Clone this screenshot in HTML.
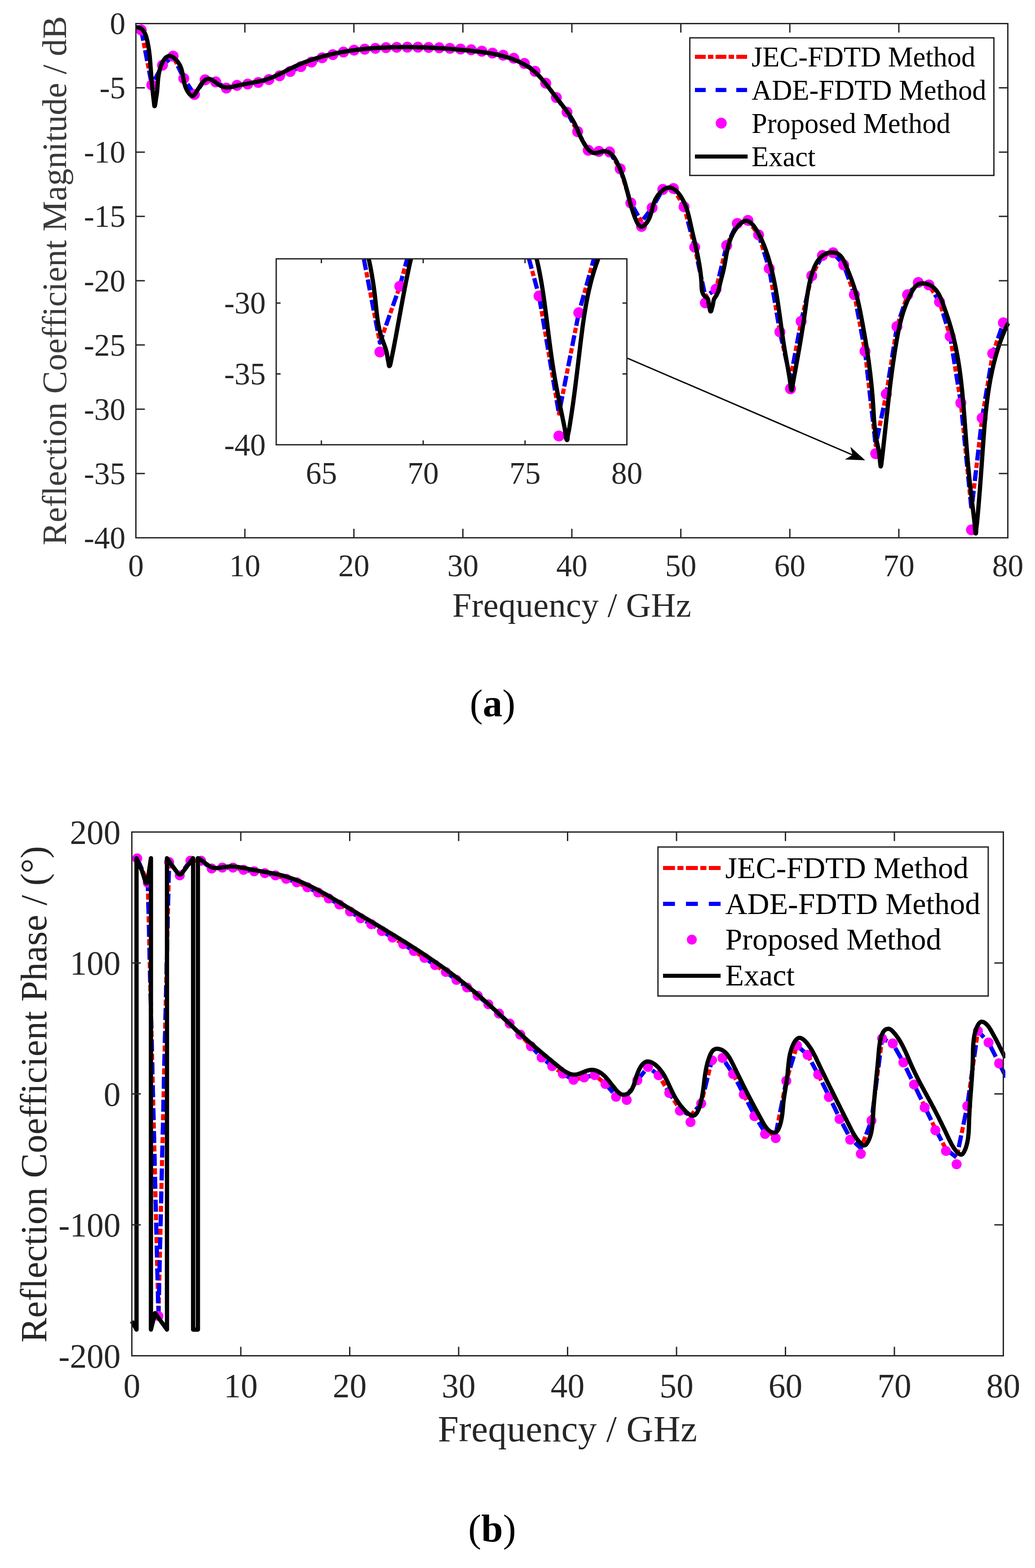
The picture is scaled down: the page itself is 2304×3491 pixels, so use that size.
<!DOCTYPE html>
<html lang="en">
<head>
<meta charset="utf-8">
<title>Reflection coefficient magnitude and phase</title>
<style>
html,body{margin:0;padding:0;background:#fff;}
body{width:2304px;height:3491px;overflow:hidden;}
svg{display:block;font-family:'Liberation Serif', 'Times New Roman', serif;}
</style>
</head>
<body>
<svg xmlns="http://www.w3.org/2000/svg" width="2304" height="3491" viewBox="0 0 2304 3491">
<rect width="2304" height="3491" fill="#fff"/>
<clipPath id="ca"><rect x="298" y="48" width="1950" height="1153.8"/></clipPath>
<g id="plotA">
<g clip-path="url(#ca)" fill="none" stroke-linejoin="round">
<path d="M314.4 66.8L338 189.2L361.7 145.1L385.4 125L409.1 174.7L432.8 210.4L456.5 177.8L480.2 182.3L503.9 196.1L527.6 190L551.3 187.2L575 183.6L598.7 177L622.4 168.8L646.1 159.1L669.8 148.4L693.5 138.2L717.2 128.6L740.9 121.6L764.6 115.9L788.2 111.7" stroke="#f00" stroke-width="9.2" stroke-dasharray="24 5 12 5" stroke-dashoffset="0"/>
<path d="M788.2 111.7L811.9 109.5L835.6 107.6L859.3 106L883 105.4L906.7 105L930.4 105L954.1 105.7L977.8 106.3L1001.5 107.6L1025.2 109.2L1048.9 110.8L1072.6 114L1096.3 118.1L1120 122.9L1143.7 129.6L1167.4 141.3L1191.1 158.8L1214.8 185.2L1238.5 217.1L1262.2 249.6L1285.8 293L1309.5 334.5L1333.2 337L1356.9 338.3L1380.6 375.9L1404.3 451.8L1428 493.6L1451.7 462.7L1475.4 421.8L1499.1 419.6L1522.8 460.4L1546.5 550.3L1570.2 660.2L1593.9 643.8L1617.6 546.5L1641.3 497.4L1665 490.7L1688.7 522.9L1712.4 597.9L1736.1 738.9L1759.7 843L1783.4 715.5L1807.1 613.9L1830.8 568.8L1854.5 562.6L1878.2 589.8L1901.9 656L1925.6 782L1949.3 991.2L1973 877.3L1996.7 726.9L2020.4 656.3L2044.1 628.9L2067.8 634.4L2091.5 672.2L2115.2 748.8L2138.9 897L2162.6 1134.3L2186.3 930.7L2209.9 787.1L2233.6 718.7" stroke="#f00" stroke-width="9.2" stroke-dasharray="24 5 12 5" stroke-dashoffset="21.4"/>
<path d="M314.4 66.8L338 189.2L361.7 145.1L385.4 125L409.1 174.7L432.8 210.4L456.5 177.8L480.2 182.3L503.9 196.1L527.6 190L551.3 187.2L575 183.6L598.7 177L622.4 168.8L646.1 159.1L669.8 148.4L693.5 138.2L717.2 128.6L740.9 121.6L764.6 115.9L788.2 111.7" stroke="#00f" stroke-width="9.2" stroke-dasharray="24 22" stroke-dashoffset="0"/>
<path d="M788.2 111.7L811.9 109.5L835.6 107.6L859.3 106L883 105.4L906.7 105L930.4 105L954.1 105.7L977.8 106.3L1001.5 107.6L1025.2 109.2L1048.9 110.8L1072.6 114L1096.3 118.1L1120 122.9L1143.7 129.6L1167.4 141.3L1191.1 158.8L1214.8 185.2L1238.5 217.1L1262.2 249.6L1285.8 293L1309.5 334.5L1333.2 337L1356.9 338.3L1380.6 375.9L1404.3 451.8L1428 493.6L1451.7 462.7L1475.4 421.8L1499.1 419.6L1522.8 460.4L1546.5 550.3L1570.2 660.2L1593.9 643.8L1617.6 546.5L1641.3 497.4L1665 490.7L1688.7 522.9L1712.4 597.9L1736.1 738.9L1759.7 843L1783.4 715.5L1807.1 613.9L1830.8 568.8L1854.5 562.6L1878.2 589.8L1901.9 656L1925.6 782L1949.3 991.2L1973 877.3L1996.7 726.9L2020.4 656.3L2044.1 628.9L2067.8 634.4L2091.5 672.2L2115.2 748.8L2138.9 897L2162.6 1134.3L2186.3 930.7L2209.9 787.1L2233.6 718.7" stroke="#00f" stroke-width="9.2" stroke-dasharray="24 22" stroke-dashoffset="21.4"/>
</g>
<g fill="#f0f"><circle cx="314.4" cy="66.8" r="12.2"/><circle cx="338" cy="189.2" r="12.2"/><circle cx="361.7" cy="145.1" r="12.2"/><circle cx="385.4" cy="125" r="12.2"/><circle cx="409.1" cy="174.7" r="12.2"/><circle cx="432.8" cy="210.4" r="12.2"/><circle cx="456.5" cy="177.8" r="12.2"/><circle cx="480.2" cy="182.3" r="12.2"/><circle cx="503.9" cy="196.1" r="12.2"/><circle cx="527.6" cy="190" r="12.2"/><circle cx="551.3" cy="187.2" r="12.2"/><circle cx="575" cy="183.6" r="12.2"/><circle cx="598.7" cy="177" r="12.2"/><circle cx="622.4" cy="168.8" r="12.2"/><circle cx="646.1" cy="159.1" r="12.2"/><circle cx="669.8" cy="148.4" r="12.2"/><circle cx="693.5" cy="138.2" r="12.2"/><circle cx="717.2" cy="128.6" r="12.2"/><circle cx="740.9" cy="121.6" r="12.2"/><circle cx="764.6" cy="115.9" r="12.2"/><circle cx="788.2" cy="111.7" r="12.2"/><circle cx="811.9" cy="109.5" r="12.2"/><circle cx="835.6" cy="107.6" r="12.2"/><circle cx="859.3" cy="106" r="12.2"/><circle cx="883" cy="105.4" r="12.2"/><circle cx="906.7" cy="105" r="12.2"/><circle cx="930.4" cy="105" r="12.2"/><circle cx="954.1" cy="105.7" r="12.2"/><circle cx="977.8" cy="106.3" r="12.2"/><circle cx="1001.5" cy="107.6" r="12.2"/><circle cx="1025.2" cy="109.2" r="12.2"/><circle cx="1048.9" cy="110.8" r="12.2"/><circle cx="1072.6" cy="114" r="12.2"/><circle cx="1096.3" cy="118.1" r="12.2"/><circle cx="1120" cy="122.9" r="12.2"/><circle cx="1143.7" cy="129.6" r="12.2"/><circle cx="1167.4" cy="141.3" r="12.2"/><circle cx="1191.1" cy="158.8" r="12.2"/><circle cx="1214.8" cy="185.2" r="12.2"/><circle cx="1238.5" cy="217.1" r="12.2"/><circle cx="1262.2" cy="249.6" r="12.2"/><circle cx="1285.8" cy="293" r="12.2"/><circle cx="1309.5" cy="334.5" r="12.2"/><circle cx="1333.2" cy="337" r="12.2"/><circle cx="1356.9" cy="338.3" r="12.2"/><circle cx="1380.6" cy="375.9" r="12.2"/><circle cx="1404.3" cy="451.8" r="12.2"/><circle cx="1428" cy="504.1" r="12.2"/><circle cx="1451.7" cy="462.7" r="12.2"/><circle cx="1475.4" cy="421.8" r="12.2"/><circle cx="1499.1" cy="419.6" r="12.2"/><circle cx="1522.8" cy="460.4" r="12.2"/><circle cx="1546.5" cy="550.3" r="12.2"/><circle cx="1570.2" cy="674.3" r="12.2"/><circle cx="1593.9" cy="643.8" r="12.2"/><circle cx="1617.6" cy="546.5" r="12.2"/><circle cx="1641.3" cy="497.4" r="12.2"/><circle cx="1665" cy="490.7" r="12.2"/><circle cx="1688.7" cy="522.9" r="12.2"/><circle cx="1712.4" cy="597.9" r="12.2"/><circle cx="1736.1" cy="738.9" r="12.2"/><circle cx="1759.7" cy="865.5" r="12.2"/><circle cx="1783.4" cy="715.5" r="12.2"/><circle cx="1807.1" cy="613.9" r="12.2"/><circle cx="1830.8" cy="568.8" r="12.2"/><circle cx="1854.5" cy="562.6" r="12.2"/><circle cx="1878.2" cy="589.8" r="12.2"/><circle cx="1901.9" cy="656" r="12.2"/><circle cx="1925.6" cy="782" r="12.2"/><circle cx="1949.3" cy="1010" r="12.2"/><circle cx="1973" cy="877.3" r="12.2"/><circle cx="1996.7" cy="726.9" r="12.2"/><circle cx="2020.4" cy="656.3" r="12.2"/><circle cx="2044.1" cy="628.9" r="12.2"/><circle cx="2067.8" cy="634.4" r="12.2"/><circle cx="2091.5" cy="672.2" r="12.2"/><circle cx="2115.2" cy="748.8" r="12.2"/><circle cx="2138.9" cy="897" r="12.2"/><circle cx="2162.6" cy="1179.6" r="12.2"/><circle cx="2186.3" cy="930.7" r="12.2"/><circle cx="2209.9" cy="787.1" r="12.2"/><circle cx="2233.6" cy="718.7" r="12.2"/></g>
<path d="M301.8 60.5C303.6 60.5 305.3 60.6 306.8 60.9C308.5 61.2 310.1 61.7 311.6 62.3C313.1 63 314.5 63.9 315.8 65C317.1 66 318.2 67.2 319.3 68.6C320.3 69.9 321.1 71.3 321.9 72.8C322.7 74.2 323.4 75.8 324 77.3C324.6 78.9 325.1 80.5 325.6 82.1C326.1 83.7 326.5 85.3 326.9 86.9C327.3 88.5 327.7 90.1 328.1 91.8C328.4 93.4 328.8 95 329.1 96.7C329.4 98.3 329.7 99.9 330 101.6C330.3 103.2 330.6 104.9 330.8 106.5C331.1 108.2 331.4 109.8 331.6 111.5C331.8 113.1 332 114.8 332.2 116.4C332.4 118.1 332.6 119.7 332.8 121.4C333 123 333.2 124.7 333.4 126.3C333.5 128 333.7 129.7 333.8 131.3C334 133 334.1 134.6 334.3 136.3C334.4 138 334.5 139.6 334.7 141.3C334.8 143 334.9 144.6 335 146.3C335.2 147.9 335.3 149.6 335.4 151.3C335.5 152.9 335.7 154.6 335.8 156.3C335.9 157.9 336 159.6 336.2 161.2C336.3 162.9 336.4 164.6 336.6 166.2C336.7 167.9 336.8 169.5 337 171.2C337.1 172.9 337.2 174.5 337.4 176.2C337.5 177.9 337.7 179.5 337.8 181.2C338 182.8 338.1 184.5 338.3 186.2C338.4 187.8 338.6 189.5 338.7 191.1C338.9 192.8 339 194.5 339.2 196.1C339.4 197.8 339.5 199.4 339.7 201.1C339.9 202.8 340 204.4 340.2 206.1C340.4 207.7 340.6 209.4 340.7 211C340.9 212.7 341.1 214.4 341.3 216C341.5 217.7 341.7 219.3 341.9 221C342.1 222.6 342.3 224.3 342.5 225.9C342.7 227.6 342.8 229.2 343 230.9C343.2 232.6 343.3 234.6 343.7 235.9C344.2 237.5 345 235.6 345.3 233.2C345.6 231.2 345.9 229.7 346.1 228.3C346.4 226.7 346.6 225.1 346.8 223.3C347 221.7 347.3 220 347.5 218.4C347.8 216.7 348.1 215.1 348.3 213.4C348.6 211.8 348.8 210.1 349.1 208.5C349.3 206.8 349.5 205.2 349.7 203.5C349.8 201.9 350 200.2 350.1 198.5C350.3 196.9 350.4 195.2 350.6 193.6C350.7 191.9 350.8 190.2 350.9 188.6C351 186.9 351.2 185.3 351.3 183.6C351.4 181.9 351.6 180.3 351.7 178.6C351.9 177 352 175.3 352.2 173.6C352.4 172 352.6 170.3 352.9 168.7C353.1 167 353.4 165.4 353.7 163.7C354 162.1 354.3 160.5 354.7 158.8C355.1 157.2 355.5 155.6 355.9 154C356.4 152.4 356.9 150.8 357.4 149.2C357.9 147.7 358.5 146.1 359.1 144.5C359.8 143 360.4 141.4 361.1 139.9C361.9 138.4 362.6 136.9 363.4 135.5C364.3 134 365.2 132.6 366.2 131.3C367.3 129.9 368.4 128.7 369.6 127.7C370.9 126.5 372.4 125.6 373.8 125.1C375.4 124.5 377.1 124.4 378.8 124.7C380.3 124.9 381.9 125.5 383.5 126.3C384.9 127.1 386.3 128 387.6 129.1C388.9 130.1 390.1 131.2 391.3 132.5C392.5 133.7 393.6 134.9 394.6 136.2C395.7 137.5 396.7 138.9 397.6 140.3C398.5 141.7 399.3 143.2 400.1 144.6C400.9 146.1 401.6 147.6 402.2 149.1C402.8 150.7 403.4 152.3 403.9 153.8C404.4 155.4 404.8 157 405.2 158.7C405.6 160.3 406 161.9 406.3 163.5C406.6 165.2 406.9 166.8 407.2 168.5C407.5 170.1 407.7 171.8 408 173.4C408.3 175 408.6 176.7 408.9 178.3C409.2 180 409.5 181.6 409.9 183.2C410.2 184.8 410.6 186.5 411.1 188.1C411.5 189.7 412 191.3 412.6 192.8C413.1 194.4 413.8 195.9 414.5 197.5C415.1 199 415.9 200.4 416.7 201.9C417.5 203.4 418.4 204.8 419.4 206.2C420.4 207.6 421.4 208.9 422.5 210.1C423.8 211.5 425.2 212.5 426.5 213.1C428.1 213.9 429.7 213.7 431.2 212.6C432.3 211.7 433.4 210.4 434.4 208.9C435.3 207.6 436.2 206.1 437.1 204.6C438 203.3 438.9 201.8 439.7 200.4C440.6 199 441.4 197.5 442.3 196.1C443.2 194.7 444.1 193.2 445 191.8C445.9 190.4 446.8 189 447.8 187.7C448.8 186.3 449.8 185 450.8 183.7C451.9 182.4 453.1 181.2 454.2 180.1C455.5 178.9 456.9 177.8 458.2 177.1C459.8 176.2 461.3 175.6 462.9 175.5C464.5 175.3 466.2 175.6 467.8 176.1C469.3 176.6 470.9 177.3 472.4 178.2C473.8 179 475.2 179.9 476.6 180.9C477.9 181.8 479.3 182.8 480.6 183.8C482 184.8 483.3 185.8 484.7 186.8C486.1 187.8 487.4 188.7 488.8 189.6C490.3 190.5 491.7 191.3 493.2 192C494.8 192.7 496.3 193.3 497.9 193.7C499.5 194.1 501.2 194.4 502.8 194.5C504.5 194.6 506.1 194.6 507.8 194.5C509.5 194.4 511.1 194.3 512.8 194C514.4 193.7 516.1 193.4 517.7 193.1C519.3 192.7 520.9 192.3 522.6 192C524.2 191.6 525.8 191.2 527.5 190.8C529.1 190.5 530.7 190.1 532.3 189.7C534 189.4 535.6 189.1 537.2 188.7C538.9 188.4 540.5 188.1 542.1 187.7C543.8 187.4 545.4 187.1 547 186.8C548.7 186.5 550.3 186.2 552 185.9C553.6 185.5 555.2 185.2 556.9 184.9C558.5 184.6 560.2 184.3 561.8 184C563.4 183.7 565.1 183.4 566.7 183.1C568.4 182.8 570 182.4 571.6 182.1C573.3 181.8 574.9 181.4 576.5 181.1C578.1 180.7 579.8 180.4 581.4 180C583 179.6 584.6 179.2 586.2 178.8C587.8 178.3 589.5 177.9 591.1 177.4C592.7 177 594.2 176.5 595.8 175.9C597.4 175.4 599 174.9 600.5 174.3C602.1 173.7 603.7 173.1 605.2 172.5C606.8 171.9 608.3 171.2 609.8 170.6C611.4 169.9 612.9 169.2 614.4 168.5C615.9 167.8 617.4 167.1 618.9 166.4C620.4 165.7 621.9 165 623.4 164.2C624.9 163.5 626.4 162.8 627.9 162C629.4 161.3 630.9 160.5 632.4 159.8C633.9 159 635.4 158.3 636.8 157.5C638.3 156.7 639.8 156 641.3 155.2C642.8 154.5 644.3 153.7 645.8 153C647.3 152.3 648.8 151.5 650.3 150.8C651.8 150.1 653.3 149.3 654.8 148.6C656.3 147.9 657.8 147.2 659.3 146.6C660.8 145.9 662.4 145.2 663.9 144.5C665.4 143.9 667 143.2 668.5 142.6C670 141.9 671.6 141.3 673.1 140.7C674.7 140 676.2 139.4 677.8 138.8C679.3 138.2 680.9 137.6 682.4 137C684 136.5 685.6 135.9 687.1 135.3C688.7 134.8 690.3 134.2 691.9 133.7C693.4 133.1 695 132.6 696.6 132.1C698.2 131.6 699.8 131 701.4 130.5C702.9 130 704.5 129.5 706.1 129.1C707.7 128.6 709.3 128.1 710.9 127.6C712.5 127.2 714.1 126.7 715.7 126.3C717.3 125.8 718.9 125.4 720.6 124.9C722.2 124.5 723.8 124.1 725.4 123.7C727 123.3 728.6 122.8 730.2 122.5C731.9 122.1 733.5 121.7 735.1 121.3C736.7 120.9 738.4 120.5 740 120.2C741.6 119.8 743.2 119.5 744.9 119.1C746.5 118.8 748.1 118.4 749.8 118.1C751.4 117.8 753 117.4 754.7 117.1C756.3 116.8 758 116.5 759.6 116.2C761.2 115.9 762.9 115.6 764.5 115.3C766.2 115 767.8 114.8 769.4 114.5C771.1 114.2 772.7 114 774.4 113.7C776 113.4 777.7 113.2 779.3 112.9C781 112.7 782.6 112.5 784.3 112.2C785.9 112 787.6 111.8 789.2 111.6C790.9 111.3 792.5 111.1 794.2 110.9C795.8 110.7 797.5 110.5 799.2 110.3C800.8 110.1 802.5 109.9 804.1 109.8C805.8 109.6 807.4 109.4 809.1 109.2C810.8 109.1 812.4 108.9 814.1 108.7C815.7 108.6 817.4 108.4 819.1 108.3C820.7 108.1 822.4 108 824 107.8C825.7 107.7 827.4 107.6 829 107.4C830.7 107.3 832.4 107.2 834 107.1C835.7 107 837.3 106.8 839 106.7C840.7 106.6 842.3 106.5 844 106.4C845.7 106.3 847.3 106.2 849 106.1C850.7 106 852.3 106 854 105.9C855.6 105.8 857.3 105.7 859 105.7C860.6 105.6 862.3 105.5 864 105.5C865.6 105.4 867.3 105.3 869 105.3C870.6 105.2 872.3 105.2 874 105.1C875.6 105.1 877.3 105 879 105C880.6 105 882.3 104.9 884 104.9C885.6 104.9 887.3 104.9 889 104.8C890.6 104.8 892.3 104.8 894 104.8C895.6 104.8 897.3 104.8 899 104.8C900.6 104.8 902.3 104.8 904 104.8C905.6 104.8 907.3 104.8 909 104.8C910.6 104.8 912.3 104.8 914 104.8C915.6 104.8 917.3 104.9 919 104.9C920.6 104.9 922.3 104.9 924 105C925.6 105 927.3 105 929 105.1C930.6 105.1 932.3 105.2 934 105.2C935.6 105.3 937.3 105.3 939 105.4C940.6 105.4 942.3 105.5 944 105.5C945.6 105.6 947.3 105.7 949 105.7C950.6 105.8 952.3 105.9 954 105.9C955.6 106 957.3 106.1 959 106.2C960.6 106.3 962.3 106.3 964 106.4C965.6 106.5 967.3 106.6 969 106.7C970.6 106.8 972.3 106.9 974 107C975.6 107.1 977.3 107.2 978.9 107.3C980.6 107.4 982.3 107.5 983.9 107.6C985.6 107.7 987.3 107.8 988.9 107.9C990.6 108.1 992.2 108.2 993.9 108.3C995.6 108.4 997.2 108.5 998.9 108.7C1000.6 108.8 1002.2 108.9 1003.9 109C1005.5 109.2 1007.2 109.3 1008.9 109.4C1010.5 109.6 1012.2 109.7 1013.9 109.9C1015.5 110 1017.2 110.1 1018.8 110.3C1020.5 110.4 1022.2 110.6 1023.8 110.7C1025.5 110.9 1027.1 111 1028.8 111.2C1030.5 111.3 1032.1 111.5 1033.8 111.6C1035.4 111.8 1037.1 111.9 1038.8 112.1C1040.4 112.3 1042.1 112.4 1043.7 112.6C1045.4 112.8 1047.1 112.9 1048.7 113.1C1050.4 113.3 1052 113.4 1053.7 113.6C1055.3 113.8 1057 114 1058.7 114.2C1060.3 114.4 1062 114.5 1063.6 114.7C1065.3 114.9 1066.9 115.1 1068.6 115.4C1070.2 115.6 1071.9 115.8 1073.6 116C1075.2 116.2 1076.9 116.5 1078.5 116.7C1080.2 116.9 1081.8 117.2 1083.5 117.4C1085.1 117.7 1086.7 117.9 1088.4 118.2C1090 118.5 1091.7 118.8 1093.3 119.1C1095 119.4 1096.6 119.7 1098.2 120C1099.9 120.3 1101.5 120.6 1103.1 121C1104.8 121.3 1106.4 121.7 1108 122C1109.7 122.4 1111.3 122.8 1112.9 123.1C1114.5 123.5 1116.1 123.9 1117.8 124.4C1119.4 124.8 1121 125.2 1122.6 125.7C1124.2 126.1 1125.8 126.6 1127.4 127.1C1129 127.5 1130.6 128 1132.2 128.5C1133.7 129 1135.3 129.6 1136.9 130.1C1138.5 130.7 1140 131.2 1141.6 131.8C1143.2 132.4 1144.7 133 1146.3 133.6C1147.8 134.2 1149.4 134.9 1150.9 135.5C1152.4 136.2 1154 136.9 1155.5 137.6C1157 138.3 1158.5 139 1160 139.7C1161.5 140.5 1162.9 141.2 1164.4 142C1165.9 142.8 1167.3 143.6 1168.8 144.5C1170.2 145.3 1171.6 146.2 1173.1 147.1C1174.5 147.9 1175.9 148.9 1177.2 149.8C1178.6 150.7 1180 151.7 1181.3 152.7C1182.7 153.7 1184 154.7 1185.3 155.7C1186.6 156.7 1187.9 157.8 1189.2 158.9C1190.4 160 1191.7 161.1 1192.9 162.2C1194.1 163.4 1195.3 164.5 1196.5 165.7C1197.7 166.9 1198.8 168.1 1200 169.3C1201.1 170.5 1202.3 171.7 1203.4 172.9C1204.5 174.2 1205.6 175.4 1206.7 176.7C1207.8 177.9 1208.9 179.2 1210 180.5C1211 181.8 1212.1 183 1213.1 184.3C1214.2 185.6 1215.2 186.9 1216.3 188.3C1217.3 189.6 1218.3 190.9 1219.3 192.2C1220.4 193.5 1221.4 194.8 1222.4 196.2C1223.4 197.5 1224.4 198.8 1225.4 200.2C1226.4 201.5 1227.4 202.8 1228.4 204.1C1229.4 205.5 1230.4 206.8 1231.4 208.1C1232.4 209.5 1233.4 210.8 1234.4 212.1C1235.4 213.5 1236.5 214.8 1237.5 216.1C1238.5 217.4 1239.5 218.7 1240.5 220C1241.6 221.4 1242.6 222.7 1243.6 224C1244.7 225.3 1245.7 226.6 1246.7 227.9C1247.8 229.2 1248.8 230.5 1249.8 231.8C1250.9 233.1 1251.9 234.5 1252.9 235.8C1253.9 237.1 1254.9 238.4 1256 239.7C1257 241.1 1258 242.4 1259 243.7C1260 245.1 1261 246.4 1261.9 247.8C1262.9 249.1 1263.9 250.5 1264.8 251.8C1265.8 253.2 1266.7 254.6 1267.7 256C1268.6 257.3 1269.5 258.7 1270.4 260.1C1271.3 261.5 1272.2 263 1273 264.4C1273.9 265.8 1274.7 267.2 1275.6 268.7C1276.4 270.1 1277.2 271.6 1278 273.1C1278.7 274.6 1279.5 276 1280.2 277.5C1281 279 1281.7 280.5 1282.4 282.1C1283.1 283.6 1283.8 285.1 1284.5 286.6C1285.1 288.1 1285.8 289.7 1286.5 291.2C1287.2 292.7 1287.8 294.2 1288.5 295.8C1289.2 297.3 1289.9 298.8 1290.5 300.3C1291.2 301.9 1291.9 303.4 1292.6 304.9C1293.3 306.4 1294 307.9 1294.8 309.4C1295.5 310.9 1296.2 312.4 1297 313.9C1297.8 315.3 1298.6 316.8 1299.4 318.2C1300.3 319.7 1301.1 321.1 1302 322.5C1302.9 323.9 1303.8 325.3 1304.8 326.7C1305.8 328 1306.8 329.4 1307.8 330.6C1308.9 331.9 1310 333.2 1311.2 334.4C1312.4 335.6 1313.6 336.7 1315 337.6C1316.3 338.6 1317.8 339.4 1319.4 340C1320.9 340.6 1322.5 340.9 1324.2 341C1325.8 341 1327.5 340.8 1329.2 340.4C1330.8 340.1 1332.4 339.6 1334 339.1C1335.6 338.6 1337.2 338.1 1338.8 337.7C1340.5 337.2 1342.2 336.9 1343.7 336.8C1345.5 336.6 1347.1 336.7 1348.7 336.9C1350.4 337.2 1352 337.7 1353.5 338.3C1355 339 1356.5 339.8 1357.9 340.8C1359.2 341.7 1360.4 342.8 1361.6 344C1362.8 345.2 1363.9 346.4 1365 347.8C1366 349.1 1366.9 350.4 1367.9 351.8C1368.8 353.2 1369.7 354.6 1370.5 356.1C1371.3 357.5 1372.1 359 1372.9 360.5C1373.7 362 1374.4 363.5 1375.2 364.9C1375.9 366.4 1376.6 368 1377.3 369.5C1378 371 1378.7 372.5 1379.4 374C1380 375.6 1380.7 377.1 1381.3 378.6C1382 380.2 1382.6 381.7 1383.2 383.3C1383.8 384.8 1384.4 386.4 1384.9 388C1385.5 389.5 1386.1 391.1 1386.6 392.7C1387.1 394.3 1387.7 395.8 1388.2 397.4C1388.7 399 1389.2 400.6 1389.7 402.2C1390.2 403.8 1390.7 405.4 1391.1 407C1391.6 408.6 1392.1 410.2 1392.5 411.8C1393 413.4 1393.4 415 1393.9 416.6C1394.3 418.2 1394.7 419.8 1395.1 421.4C1395.6 423 1396 424.7 1396.4 426.3C1396.8 427.9 1397.2 429.5 1397.6 431.1C1398 432.7 1398.4 434.4 1398.8 436C1399.2 437.6 1399.6 439.2 1400.1 440.8C1400.5 442.4 1400.9 444 1401.3 445.7C1401.7 447.3 1402.1 448.9 1402.6 450.5C1403 452.1 1403.4 453.7 1403.9 455.3C1404.3 456.9 1404.8 458.5 1405.2 460.1C1405.7 461.7 1406.2 463.3 1406.7 464.9C1407.2 466.5 1407.7 468.1 1408.2 469.7C1408.7 471.3 1409.2 472.9 1409.8 474.4C1410.3 476 1410.9 477.6 1411.4 479.2C1412 480.7 1412.6 482.3 1413.2 483.8C1413.8 485.4 1414.4 486.9 1415.1 488.5C1415.7 490 1416.4 491.6 1417.1 493C1417.8 494.6 1418.6 496.1 1419.4 497.5C1420.3 499.1 1421.2 500.4 1422.2 501.6C1423.5 503 1424.8 504 1426.2 504.5C1427.7 505 1429.4 504.8 1431.1 504C1432.4 503.4 1433.8 502.3 1435.1 501.1C1436.3 500 1437.4 498.8 1438.5 497.4C1439.6 496.1 1440.5 494.8 1441.4 493.4C1442.3 491.9 1443.1 490.5 1443.9 489C1444.6 487.5 1445.3 486 1446 484.5C1446.6 482.9 1447.2 481.4 1447.8 479.8C1448.3 478.2 1448.8 476.6 1449.3 475C1449.8 473.4 1450.2 471.8 1450.6 470.2C1451.1 468.6 1451.5 467 1451.9 465.4C1452.3 463.7 1452.7 462.1 1453.1 460.5C1453.6 458.9 1454 457.3 1454.5 455.7C1454.9 454.1 1455.4 452.5 1456 451C1456.6 449.4 1457.2 447.9 1457.8 446.3C1458.5 444.8 1459.2 443.3 1460.1 441.8C1460.9 440.4 1461.7 439 1462.7 437.6C1463.6 436.2 1464.6 434.8 1465.6 433.5C1466.6 432.2 1467.7 430.9 1468.8 429.7C1470 428.4 1471.1 427.2 1472.3 426.1C1473.6 425 1474.9 423.9 1476.2 423C1477.6 421.9 1479 421 1480.4 420.3C1482 419.5 1483.5 418.8 1485 418.4C1486.7 417.9 1488.3 417.6 1490 417.6C1491.6 417.7 1493.3 417.9 1494.9 418.4C1496.4 418.9 1498 419.6 1499.4 420.5C1500.8 421.3 1502.2 422.3 1503.5 423.3C1504.8 424.4 1506 425.5 1507.2 426.7C1508.3 427.9 1509.4 429.2 1510.5 430.5C1511.6 431.8 1512.6 433.1 1513.5 434.5C1514.5 435.8 1515.4 437.2 1516.3 438.6C1517.2 440.1 1518 441.5 1518.9 442.9C1519.7 444.4 1520.5 445.9 1521.2 447.3C1522 448.8 1522.7 450.3 1523.4 451.8C1524.1 453.4 1524.8 454.9 1525.4 456.4C1526 458 1526.6 459.5 1527.2 461.1C1527.8 462.7 1528.4 464.2 1528.9 465.8C1529.4 467.4 1529.9 469 1530.4 470.6C1530.9 472.2 1531.3 473.8 1531.8 475.4C1532.2 477 1532.6 478.6 1533 480.2C1533.4 481.8 1533.8 483.5 1534.2 485.1C1534.6 486.7 1535 488.3 1535.3 489.9C1535.7 491.6 1536.1 493.2 1536.4 494.8C1536.8 496.5 1537.1 498.1 1537.5 499.7C1537.8 501.3 1538.2 503 1538.6 504.6C1538.9 506.2 1539.3 507.9 1539.6 509.5C1540 511.1 1540.4 512.7 1540.7 514.4C1541.1 516 1541.5 517.6 1541.9 519.2C1542.2 520.9 1542.6 522.5 1543 524.1C1543.4 525.7 1543.8 527.4 1544.1 529C1544.5 530.6 1544.9 532.2 1545.3 533.9C1545.7 535.5 1546 537.1 1546.4 538.7C1546.8 540.3 1547.2 542 1547.5 543.6C1547.9 545.2 1548.3 546.8 1548.6 548.5C1549 550.1 1549.4 551.7 1549.7 553.4C1550.1 555 1550.5 556.6 1550.8 558.2C1551.2 559.9 1551.5 561.5 1551.9 563.1C1552.2 564.8 1552.6 566.4 1552.9 568C1553.2 569.7 1553.6 571.3 1553.9 572.9C1554.2 574.6 1554.5 576.2 1554.8 577.8C1555.1 579.5 1555.4 581.1 1555.7 582.8C1556 584.4 1556.3 586 1556.6 587.7C1556.9 589.3 1557.1 591 1557.4 592.6C1557.7 594.3 1557.9 595.9 1558.2 597.6C1558.4 599.2 1558.6 600.9 1558.8 602.5C1559.1 604.2 1559.3 605.8 1559.5 607.5C1559.7 609.1 1559.9 610.8 1560.1 612.4C1560.2 614.1 1560.4 615.8 1560.6 617.4C1560.7 619.1 1560.9 620.7 1561 622.4C1561.1 624.1 1561.2 625.7 1561.3 627.4C1561.4 629 1561.5 630.7 1561.6 632.4C1561.7 634 1561.7 635.7 1561.8 637.4C1561.9 639.1 1562 640.7 1562.1 642.4C1562.3 644.1 1562.5 645.7 1562.8 647.3C1563.1 649 1563.5 650.6 1564.1 652.2C1564.6 653.7 1565.4 655.2 1566.3 656.6C1567.2 658 1568.3 659.2 1569.7 660.3C1570.9 661.3 1572.5 662.2 1573.8 663.2C1575.1 664.3 1576.1 665.6 1576.5 667.3C1576.8 668.8 1576.8 670.5 1577 672.2C1577.2 673.9 1577.5 675.6 1577.8 677.2C1578.1 678.8 1578.5 680.4 1578.9 682.1C1579.2 683.7 1579.5 685.3 1579.8 687C1580 688.5 1580.4 690.1 1580.9 691.8C1581.5 693.8 1582.8 693.8 1583.4 691.9C1584 690.2 1584.2 688.5 1584.6 687C1585 685.4 1585.5 683.8 1585.9 682.1C1586.4 680.6 1586.8 679 1587.1 677.3C1587.4 675.7 1587.6 674 1587.9 672.3C1588.2 670.6 1588.5 669 1589 667.5C1589.5 665.8 1590.2 664.3 1591.2 663C1592.1 661.6 1593.2 660.3 1594.1 658.9C1595 657.5 1595.8 656.1 1596.5 654.6C1597.2 653.1 1597.8 651.5 1598.3 649.9C1598.9 648.4 1599.4 646.8 1599.8 645.1C1600.2 643.5 1600.6 641.9 1601 640.3C1601.4 638.7 1601.7 637 1602.1 635.4C1602.4 633.8 1602.8 632.1 1603.2 630.5C1603.6 628.9 1603.9 627.3 1604.4 625.7C1604.8 624 1605.2 622.4 1605.6 620.8C1606 619.2 1606.4 617.6 1606.9 616C1607.3 614.4 1607.7 612.8 1608.1 611.1C1608.6 609.5 1609 607.9 1609.4 606.3C1609.8 604.7 1610.2 603 1610.5 601.4C1610.9 599.8 1611.3 598.2 1611.6 596.5C1611.9 594.9 1612.3 593.3 1612.6 591.6C1612.9 590 1613.2 588.4 1613.5 586.7C1613.8 585.1 1614.1 583.4 1614.4 581.8C1614.7 580.2 1615 578.5 1615.3 576.9C1615.5 575.2 1615.8 573.6 1616.1 571.9C1616.4 570.3 1616.7 568.7 1617 567C1617.3 565.4 1617.6 563.7 1618 562.1C1618.3 560.5 1618.6 558.8 1619 557.2C1619.3 555.6 1619.7 554 1620.1 552.3C1620.5 550.7 1620.9 549.1 1621.3 547.5C1621.7 545.9 1622.2 544.3 1622.6 542.7C1623.1 541.1 1623.6 539.5 1624.1 537.9C1624.6 536.3 1625.2 534.7 1625.8 533.2C1626.4 531.6 1627 530.1 1627.6 528.5C1628.3 527 1629 525.5 1629.7 524C1630.4 522.5 1631.2 521 1631.9 519.5C1632.7 518.1 1633.6 516.6 1634.4 515.2C1635.3 513.8 1636.2 512.4 1637.1 511C1638.1 509.6 1639 508.3 1640.1 506.9C1641.1 505.6 1642.1 504.3 1643.2 503C1644.3 501.8 1645.5 500.5 1646.6 499.4C1647.9 498.2 1649.1 497 1650.4 496.1C1651.8 495 1653.2 494.1 1654.6 493.3C1656.1 492.5 1657.7 492 1659.3 491.7C1661 491.5 1662.6 491.6 1664.2 492.1C1665.8 492.5 1667.3 493.2 1668.7 494.2C1670.1 495.1 1671.4 496.1 1672.7 497.3C1673.8 498.4 1675 499.6 1676.1 500.9C1677.2 502.2 1678.2 503.5 1679.2 504.9C1680.2 506.2 1681.1 507.6 1682 509C1682.9 510.4 1683.8 511.8 1684.7 513.2C1685.6 514.6 1686.4 516.1 1687.2 517.5C1688 519 1688.8 520.5 1689.6 521.9C1690.4 523.4 1691.2 524.9 1691.9 526.4C1692.7 527.9 1693.4 529.4 1694.1 530.8C1694.9 532.4 1695.6 533.9 1696.2 535.4C1696.9 536.9 1697.6 538.4 1698.2 540C1698.9 541.5 1699.5 543 1700.1 544.6C1700.8 546.1 1701.4 547.7 1702 549.2C1702.6 550.8 1703.1 552.4 1703.7 553.9C1704.3 555.5 1704.8 557.1 1705.4 558.6C1705.9 560.2 1706.5 561.8 1707 563.4C1707.6 564.9 1708.1 566.5 1708.6 568.1C1709.1 569.7 1709.6 571.3 1710.1 572.9C1710.6 574.5 1711.1 576.1 1711.5 577.7C1712 579.3 1712.5 580.9 1712.9 582.5C1713.4 584.1 1713.8 585.7 1714.3 587.3C1714.7 588.9 1715.1 590.5 1715.6 592.1C1716 593.7 1716.4 595.4 1716.8 597C1717.2 598.6 1717.6 600.2 1718 601.8C1718.4 603.4 1718.8 605.1 1719.2 606.7C1719.5 608.3 1719.9 609.9 1720.3 611.6C1720.6 613.2 1721 614.8 1721.3 616.5C1721.7 618.1 1722 619.7 1722.4 621.3C1722.7 623 1723.1 624.6 1723.4 626.2C1723.7 627.9 1724 629.5 1724.3 631.2C1724.7 632.8 1725 634.4 1725.3 636.1C1725.6 637.7 1725.9 639.3 1726.2 641C1726.5 642.6 1726.8 644.3 1727.1 645.9C1727.4 647.5 1727.6 649.2 1727.9 650.8C1728.2 652.5 1728.5 654.1 1728.7 655.8C1729 657.4 1729.3 659.1 1729.6 660.7C1729.8 662.3 1730.1 664 1730.3 665.6C1730.6 667.3 1730.9 668.9 1731.1 670.6C1731.4 672.2 1731.6 673.9 1731.9 675.5C1732.1 677.2 1732.3 678.8 1732.6 680.5C1732.8 682.1 1733.1 683.8 1733.3 685.4C1733.5 687.1 1733.8 688.7 1734 690.4C1734.3 692 1734.5 693.7 1734.7 695.3C1735 697 1735.2 698.6 1735.4 700.3C1735.6 701.9 1735.9 703.6 1736.1 705.2C1736.3 706.9 1736.6 708.5 1736.8 710.2C1737 711.8 1737.2 713.5 1737.5 715.1C1737.7 716.8 1737.9 718.4 1738.1 720.1C1738.4 721.8 1738.6 723.4 1738.8 725.1C1739 726.7 1739.3 728.4 1739.5 730C1739.7 731.7 1739.9 733.3 1740.2 735C1740.4 736.6 1740.6 738.3 1740.9 739.9C1741.1 741.6 1741.3 743.2 1741.6 744.9C1741.8 746.5 1742 748.2 1742.3 749.8C1742.5 751.5 1742.8 753.1 1743 754.8C1743.2 756.4 1743.5 758.1 1743.7 759.7C1744 761.4 1744.2 763 1744.5 764.7C1744.7 766.3 1745 768 1745.2 769.6C1745.5 771.3 1745.8 772.9 1746 774.5C1746.3 776.2 1746.6 777.8 1746.8 779.5C1747.1 781.1 1747.4 782.8 1747.7 784.4C1747.9 786.1 1748.2 787.7 1748.5 789.3C1748.8 791 1749.1 792.6 1749.4 794.3C1749.7 795.9 1750 797.5 1750.3 799.2C1750.6 800.8 1750.8 802.5 1751.1 804.1C1751.4 805.8 1751.7 807.4 1752 809C1752.3 810.7 1752.6 812.3 1752.9 814C1753.2 815.6 1753.5 817.2 1753.8 818.9C1754.1 820.5 1754.4 822.2 1754.7 823.8C1754.9 825.4 1755.2 827.1 1755.5 828.7C1755.8 830.4 1756 832 1756.3 833.7C1756.6 835.3 1756.9 837 1757.1 838.6C1757.4 840.2 1757.6 841.9 1757.9 843.5C1758.1 845.2 1758.4 846.8 1758.6 848.5C1758.8 850.2 1759.1 851.8 1759.3 853.5C1759.5 855.1 1759.7 856.8 1759.9 858.4C1760.2 860 1760.4 861.7 1760.6 863.4C1760.9 864.9 1761.2 866.8 1761.6 868.4C1762 870.2 1762.9 867.3 1763.3 865.4C1763.7 863.7 1763.8 862.1 1764.1 860.5C1764.3 858.9 1764.6 857.2 1764.9 855.6C1765.1 853.9 1765.4 852.3 1765.7 850.6C1766 849 1766.3 847.4 1766.6 845.7C1766.9 844.1 1767.1 842.4 1767.4 840.8C1767.7 839.1 1768 837.5 1768.3 835.9C1768.6 834.2 1768.9 832.6 1769.2 830.9C1769.6 829.3 1769.9 827.7 1770.2 826C1770.5 824.4 1770.8 822.8 1771.1 821.1C1771.4 819.5 1771.7 817.8 1771.9 816.2C1772.2 814.5 1772.5 812.9 1772.8 811.3C1773.1 809.6 1773.4 808 1773.7 806.3C1774 804.7 1774.3 803.1 1774.6 801.4C1774.9 799.8 1775.2 798.1 1775.5 796.5C1775.8 794.9 1776.1 793.2 1776.4 791.6C1776.7 789.9 1777 788.3 1777.2 786.7C1777.5 785 1777.8 783.4 1778.1 781.7C1778.4 780.1 1778.7 778.4 1779 776.8C1779.2 775.2 1779.5 773.5 1779.8 771.9C1780.1 770.2 1780.4 768.6 1780.7 766.9C1780.9 765.3 1781.2 763.7 1781.5 762C1781.8 760.4 1782.1 758.7 1782.3 757.1C1782.6 755.4 1782.9 753.8 1783.1 752.1C1783.4 750.5 1783.7 748.9 1784 747.2C1784.2 745.6 1784.5 743.9 1784.8 742.3C1785 740.6 1785.3 739 1785.6 737.3C1785.8 735.7 1786.1 734 1786.4 732.4C1786.6 730.8 1786.9 729.1 1787.1 727.5C1787.4 725.8 1787.6 724.2 1787.9 722.5C1788.2 720.9 1788.4 719.2 1788.7 717.6C1788.9 715.9 1789.2 714.3 1789.4 712.6C1789.7 711 1789.9 709.3 1790.1 707.7C1790.4 706 1790.6 704.4 1790.9 702.7C1791.1 701.1 1791.4 699.4 1791.6 697.8C1791.8 696.1 1792.1 694.5 1792.3 692.8C1792.5 691.2 1792.8 689.5 1793 687.9C1793.2 686.2 1793.4 684.6 1793.7 682.9C1793.9 681.3 1794.1 679.6 1794.3 678C1794.5 676.3 1794.8 674.7 1795 673C1795.2 671.4 1795.4 669.7 1795.6 668.1C1795.9 666.4 1796.1 664.7 1796.3 663.1C1796.5 661.4 1796.8 659.8 1797 658.1C1797.3 656.5 1797.5 654.8 1797.8 653.2C1798 651.6 1798.3 649.9 1798.5 648.3C1798.8 646.6 1799.1 645 1799.4 643.3C1799.7 641.7 1800 640.1 1800.3 638.4C1800.6 636.8 1800.9 635.1 1801.3 633.5C1801.6 631.9 1802 630.3 1802.3 628.6C1802.7 627 1803.1 625.4 1803.5 623.8C1803.9 622.1 1804.3 620.5 1804.7 618.9C1805.1 617.3 1805.6 615.7 1806 614.1C1806.5 612.5 1807 610.9 1807.5 609.3C1808 607.7 1808.5 606.1 1809.1 604.5C1809.6 603 1810.2 601.4 1810.8 599.8C1811.4 598.3 1812 596.7 1812.6 595.2C1813.3 593.7 1814 592.2 1814.7 590.7C1815.5 589.2 1816.2 587.7 1817 586.2C1817.9 584.8 1818.7 583.3 1819.6 582C1820.5 580.5 1821.5 579.2 1822.5 577.9C1823.5 576.5 1824.6 575.3 1825.8 574.1C1826.9 572.8 1828.1 571.7 1829.4 570.6C1830.6 569.5 1832 568.5 1833.4 567.6C1834.8 566.7 1836.2 565.9 1837.7 565.2C1839.2 564.5 1840.8 563.9 1842.4 563.4C1844 563 1845.6 562.6 1847.3 562.4C1848.9 562.1 1850.6 562 1852.3 562C1854 562 1855.6 562.1 1857.3 562.3C1858.9 562.6 1860.6 563 1862.1 563.6C1863.7 564.2 1865.2 565 1866.5 565.9C1867.9 566.8 1869.2 567.9 1870.4 569.1C1871.5 570.2 1872.6 571.5 1873.6 572.9C1874.6 574.2 1875.5 575.6 1876.4 577.1C1877.2 578.5 1878 579.9 1878.8 581.4C1879.5 582.9 1880.2 584.4 1880.9 586C1881.6 587.5 1882.2 589 1882.9 590.6C1883.5 592.1 1884.2 593.7 1884.8 595.2C1885.4 596.7 1886 598.3 1886.7 599.8C1887.3 601.4 1887.9 602.9 1888.5 604.5C1889.2 606 1889.8 607.6 1890.4 609.1C1891 610.7 1891.6 612.2 1892.2 613.8C1892.8 615.3 1893.4 616.9 1894 618.4C1894.6 620 1895.1 621.6 1895.7 623.1C1896.3 624.7 1896.9 626.3 1897.4 627.8C1898 629.4 1898.5 631 1899.1 632.6C1899.6 634.1 1900.1 635.7 1900.7 637.3C1901.2 638.9 1901.7 640.5 1902.2 642C1902.7 643.6 1903.2 645.2 1903.7 646.8C1904.2 648.4 1904.6 650 1905.1 651.6C1905.6 653.2 1906 654.8 1906.4 656.4C1906.9 658 1907.3 659.7 1907.7 661.3C1908.1 662.9 1908.5 664.5 1908.9 666.1C1909.3 667.7 1909.7 669.4 1910.1 671C1910.5 672.6 1910.8 674.2 1911.2 675.9C1911.6 677.5 1911.9 679.1 1912.3 680.8C1912.6 682.4 1913 684 1913.3 685.7C1913.6 687.3 1914 688.9 1914.3 690.5C1914.6 692.2 1915 693.8 1915.3 695.5C1915.6 697.1 1915.9 698.7 1916.2 700.4C1916.6 702 1916.9 703.6 1917.2 705.3C1917.5 706.9 1917.8 708.6 1918.1 710.2C1918.4 711.8 1918.7 713.5 1919 715.1C1919.3 716.7 1919.6 718.4 1920 720C1920.3 721.7 1920.6 723.3 1920.9 724.9C1921.2 726.6 1921.5 728.2 1921.7 729.9C1922 731.5 1922.3 733.1 1922.6 734.8C1922.9 736.4 1923.2 738.1 1923.5 739.7C1923.8 741.4 1924.1 743 1924.4 744.6C1924.6 746.3 1924.9 747.9 1925.2 749.6C1925.5 751.2 1925.8 752.9 1926 754.5C1926.3 756.1 1926.6 757.8 1926.9 759.4C1927.1 761.1 1927.4 762.7 1927.7 764.4C1927.9 766 1928.2 767.7 1928.5 769.3C1928.7 771 1929 772.6 1929.2 774.2C1929.5 775.9 1929.8 777.5 1930 779.2C1930.3 780.8 1930.5 782.5 1930.8 784.1C1931 785.8 1931.3 787.4 1931.5 789.1C1931.7 790.7 1932 792.4 1932.2 794C1932.5 795.7 1932.7 797.3 1932.9 799C1933.2 800.6 1933.4 802.3 1933.6 803.9C1933.9 805.6 1934.1 807.2 1934.3 808.9C1934.5 810.5 1934.8 812.2 1935 813.8C1935.2 815.5 1935.4 817.1 1935.6 818.8C1935.8 820.5 1936 822.1 1936.2 823.8C1936.5 825.4 1936.7 827.1 1936.9 828.7C1937.1 830.4 1937.3 832 1937.5 833.7C1937.6 835.3 1937.8 837 1938 838.7C1938.2 840.3 1938.4 842 1938.6 843.6C1938.8 845.3 1938.9 846.9 1939.1 848.6C1939.3 850.3 1939.5 851.9 1939.6 853.6C1939.8 855.2 1940 856.9 1940.1 858.6C1940.3 860.2 1940.5 861.9 1940.6 863.5C1940.8 865.2 1940.9 866.8 1941.1 868.5C1941.2 870.2 1941.4 871.8 1941.5 873.5C1941.7 875.1 1941.8 876.8 1942 878.5C1942.1 880.1 1942.2 881.8 1942.4 883.5C1942.5 885.1 1942.6 886.8 1942.8 888.4C1942.9 890.1 1943 891.8 1943.1 893.4C1943.2 895.1 1943.3 896.8 1943.5 898.4C1943.6 900.1 1943.7 901.7 1943.8 903.4C1943.9 905.1 1944 906.7 1944.1 908.4C1944.2 910.1 1944.3 911.7 1944.4 913.4C1944.5 915.1 1944.6 916.7 1944.7 918.4C1944.8 920.1 1944.9 921.7 1945 923.4C1945.1 925 1945.2 926.7 1945.3 928.4C1945.4 930 1945.5 931.7 1945.6 933.4C1945.8 935 1945.9 936.7 1946 938.3C1946.1 940 1946.3 941.7 1946.4 943.3C1946.6 945 1946.7 946.7 1946.9 948.3C1947 950 1947.2 951.6 1947.4 953.3C1947.5 955 1947.7 956.6 1947.9 958.3C1948.1 959.9 1948.3 961.6 1948.5 963.2C1948.7 964.9 1949 966.5 1949.2 968.2C1949.5 969.8 1949.7 971.5 1950 973.1C1950.3 974.8 1950.5 976.4 1950.8 978C1951.1 979.7 1951.5 981.3 1951.8 983C1952.1 984.6 1952.5 986.2 1952.8 987.8C1953.2 989.5 1953.6 991.1 1953.9 992.7C1954.3 994.4 1954.6 996 1955 997.6C1955.3 999.3 1955.7 1000.9 1956 1002.5C1956.3 1004.2 1956.6 1005.8 1956.8 1007.4C1957.1 1009.1 1957.3 1010.7 1957.5 1012.4C1957.7 1014.1 1957.8 1015.7 1958 1017.4C1958.2 1019 1958.3 1020.7 1958.5 1022.4C1958.6 1024 1958.8 1025.8 1959 1027.3C1959.2 1029.1 1959.4 1030.5 1959.6 1032.3C1959.7 1033.7 1959.8 1035.7 1960.1 1037.4C1960.4 1039.9 1961.4 1037.4 1961.7 1035.4C1961.9 1033.7 1962.1 1032.1 1962.3 1030.4C1962.5 1028.8 1962.7 1027.1 1962.9 1025.5C1963.1 1023.8 1963.3 1022.1 1963.5 1020.5C1963.7 1018.8 1963.9 1017.2 1964.1 1015.5C1964.3 1013.9 1964.5 1012.2 1964.7 1010.6C1964.9 1008.9 1965.1 1007.2 1965.2 1005.6C1965.4 1003.9 1965.6 1002.3 1965.8 1000.6C1966 999 1966.2 997.3 1966.4 995.7C1966.6 994 1966.8 992.3 1966.9 990.7C1967.1 989 1967.3 987.4 1967.5 985.7C1967.7 984.1 1967.9 982.4 1968 980.7C1968.2 979.1 1968.4 977.4 1968.6 975.8C1968.8 974.1 1969 972.5 1969.1 970.8C1969.3 969.1 1969.5 967.5 1969.7 965.8C1969.9 964.2 1970 962.5 1970.2 960.9C1970.4 959.2 1970.6 957.5 1970.8 955.9C1970.9 954.2 1971.1 952.6 1971.3 950.9C1971.5 949.2 1971.6 947.6 1971.8 945.9C1972 944.3 1972.2 942.6 1972.4 941C1972.5 939.3 1972.7 937.6 1972.9 936C1973.1 934.3 1973.2 932.7 1973.4 931C1973.6 929.4 1973.8 927.7 1974 926C1974.1 924.4 1974.3 922.7 1974.5 921.1C1974.7 919.4 1974.9 917.8 1975 916.1C1975.2 914.4 1975.4 912.8 1975.6 911.1C1975.8 909.5 1975.9 907.8 1976.1 906.2C1976.3 904.5 1976.5 902.8 1976.7 901.2C1976.8 899.5 1977 897.9 1977.2 896.2C1977.4 894.6 1977.6 892.9 1977.8 891.2C1978 889.6 1978.1 887.9 1978.3 886.3C1978.5 884.6 1978.7 883 1978.9 881.3C1979.1 879.6 1979.3 878 1979.5 876.3C1979.7 874.7 1979.8 873 1980 871.4C1980.2 869.7 1980.4 868.1 1980.6 866.4C1980.8 864.7 1981 863.1 1981.2 861.4C1981.4 859.8 1981.6 858.1 1981.8 856.5C1982 854.8 1982.2 853.2 1982.4 851.5C1982.6 849.9 1982.8 848.2 1983 846.5C1983.2 844.9 1983.4 843.2 1983.7 841.6C1983.9 839.9 1984.1 838.3 1984.3 836.6C1984.5 835 1984.7 833.3 1984.9 831.7C1985.2 830 1985.4 828.4 1985.6 826.7C1985.8 825 1986 823.4 1986.3 821.7C1986.5 820.1 1986.7 818.4 1986.9 816.8C1987.2 815.1 1987.4 813.5 1987.6 811.8C1987.9 810.2 1988.1 808.5 1988.3 806.9C1988.6 805.2 1988.8 803.6 1989 801.9C1989.3 800.3 1989.5 798.6 1989.8 797C1990 795.3 1990.3 793.7 1990.5 792C1990.8 790.4 1991 788.7 1991.3 787.1C1991.5 785.5 1991.8 783.8 1992 782.2C1992.3 780.5 1992.6 778.9 1992.8 777.2C1993.1 775.6 1993.4 773.9 1993.6 772.3C1993.9 770.6 1994.2 769 1994.5 767.3C1994.7 765.7 1995 764.1 1995.3 762.4C1995.6 760.8 1995.9 759.1 1996.1 757.5C1996.4 755.8 1996.7 754.2 1997 752.6C1997.3 750.9 1997.6 749.3 1997.9 747.6C1998.2 746 1998.5 744.4 1998.9 742.7C1999.2 741.1 1999.5 739.5 1999.8 737.8C2000.2 736.2 2000.5 734.6 2000.9 732.9C2001.2 731.3 2001.6 729.7 2001.9 728C2002.3 726.4 2002.6 724.8 2003 723.2C2003.4 721.5 2003.8 719.9 2004.2 718.3C2004.6 716.7 2005 715.1 2005.4 713.5C2005.8 711.8 2006.2 710.2 2006.7 708.6C2007.1 707 2007.6 705.4 2008 703.8C2008.5 702.2 2009 700.6 2009.4 699C2009.9 697.4 2010.4 695.8 2010.9 694.2C2011.4 692.6 2012 691.1 2012.5 689.5C2013 687.9 2013.6 686.3 2014.1 684.8C2014.7 683.2 2015.3 681.6 2015.9 680.1C2016.5 678.5 2017.1 677 2017.7 675.4C2018.3 673.9 2018.9 672.3 2019.6 670.8C2020.2 669.2 2020.9 667.7 2021.6 666.2C2022.3 664.7 2023 663.2 2023.7 661.7C2024.4 660.2 2025.1 658.7 2025.9 657.2C2026.6 655.7 2027.4 654.2 2028.2 652.7C2029 651.3 2029.8 649.8 2030.6 648.3C2031.4 646.9 2032.3 645.4 2033.2 644C2034.1 642.6 2035.1 641.3 2036.1 640C2037.1 638.6 2038.3 637.4 2039.5 636.3C2040.7 635.2 2042 634.2 2043.5 633.3C2044.9 632.5 2046.4 631.9 2048.1 631.5C2049.7 631.1 2051.3 630.9 2053 630.8C2054.7 630.8 2056.3 630.8 2058 631.1C2059.7 631.3 2061.3 631.6 2062.9 632.1C2064.5 632.5 2066.1 633 2067.7 633.7C2069.2 634.3 2070.7 635.1 2072.2 635.9C2073.6 636.7 2075 637.6 2076.3 638.6C2077.7 639.6 2078.9 640.7 2080.1 641.9C2081.3 643 2082.4 644.3 2083.5 645.6C2084.6 646.8 2085.6 648.2 2086.5 649.6C2087.4 650.9 2088.3 652.3 2089.2 653.8C2090 655.2 2090.8 656.7 2091.5 658.2C2092.3 659.7 2093 661.2 2093.7 662.7C2094.4 664.2 2095 665.8 2095.6 667.3C2096.3 668.9 2096.9 670.4 2097.5 672C2098.1 673.5 2098.6 675.1 2099.2 676.7C2099.8 678.2 2100.3 679.8 2100.9 681.4C2101.4 682.9 2102 684.5 2102.6 686.1C2103.1 687.7 2103.7 689.2 2104.2 690.8C2104.8 692.4 2105.3 694 2105.9 695.5C2106.4 697.1 2106.9 698.7 2107.5 700.3C2108 701.8 2108.5 703.4 2109.1 705C2109.6 706.6 2110.1 708.2 2110.6 709.7C2111.2 711.3 2111.7 712.9 2112.2 714.5C2112.7 716.1 2113.2 717.7 2113.7 719.3C2114.2 720.9 2114.7 722.5 2115.1 724.1C2115.6 725.7 2116.1 727.3 2116.6 728.9C2117 730.5 2117.5 732.1 2117.9 733.7C2118.4 735.3 2118.8 736.9 2119.3 738.5C2119.7 740.1 2120.1 741.7 2120.6 743.3C2121 744.9 2121.4 746.5 2121.8 748.2C2122.2 749.8 2122.6 751.4 2123 753C2123.4 754.6 2123.8 756.3 2124.2 757.9C2124.6 759.5 2124.9 761.1 2125.3 762.7C2125.7 764.4 2126 766 2126.4 767.6C2126.7 769.3 2127.1 770.9 2127.4 772.5C2127.8 774.2 2128.1 775.8 2128.4 777.4C2128.8 779.1 2129.1 780.7 2129.4 782.3C2129.7 784 2130 785.6 2130.3 787.2C2130.6 788.9 2130.9 790.5 2131.2 792.2C2131.5 793.8 2131.8 795.4 2132.1 797.1C2132.4 798.7 2132.7 800.4 2132.9 802C2133.2 803.7 2133.5 805.3 2133.7 807C2134 808.6 2134.3 810.2 2134.5 811.9C2134.8 813.5 2135 815.2 2135.3 816.8C2135.5 818.5 2135.7 820.1 2136 821.8C2136.2 823.4 2136.4 825.1 2136.7 826.7C2136.9 828.4 2137.1 830 2137.3 831.7C2137.6 833.4 2137.8 835 2138 836.7C2138.2 838.3 2138.4 840 2138.6 841.6C2138.8 843.3 2139 844.9 2139.2 846.6C2139.4 848.2 2139.6 849.9 2139.8 851.6C2140 853.2 2140.1 854.9 2140.3 856.5C2140.5 858.2 2140.7 859.8 2140.9 861.5C2141 863.2 2141.2 864.8 2141.4 866.5C2141.6 868.1 2141.7 869.8 2141.9 871.4C2142.1 873.1 2142.2 874.8 2142.4 876.4C2142.5 878.1 2142.7 879.7 2142.8 881.4C2143 883.1 2143.2 884.7 2143.3 886.4C2143.5 888 2143.6 889.7 2143.7 891.4C2143.9 893 2144 894.7 2144.2 896.3C2144.3 898 2144.5 899.7 2144.6 901.3C2144.7 903 2144.9 904.7 2145 906.3C2145.1 908 2145.3 909.6 2145.4 911.3C2145.6 913 2145.7 914.6 2145.8 916.3C2145.9 917.9 2146.1 919.6 2146.2 921.3C2146.3 922.9 2146.5 924.6 2146.6 926.3C2146.7 927.9 2146.8 929.6 2147 931.2C2147.1 932.9 2147.2 934.6 2147.3 936.2C2147.5 937.9 2147.6 939.6 2147.7 941.2C2147.8 942.9 2148 944.5 2148.1 946.2C2148.2 947.9 2148.3 949.5 2148.4 951.2C2148.6 952.9 2148.7 954.5 2148.8 956.2C2148.9 957.8 2149.1 959.5 2149.2 961.2C2149.3 962.8 2149.4 964.5 2149.6 966.2C2149.7 967.8 2149.8 969.5 2149.9 971.1C2150 972.8 2150.2 974.5 2150.3 976.1C2150.4 977.8 2150.5 979.5 2150.7 981.1C2150.8 982.8 2150.9 984.4 2151 986.1C2151.2 987.8 2151.3 989.4 2151.4 991.1C2151.6 992.8 2151.7 994.4 2151.8 996.1C2151.9 997.7 2152.1 999.4 2152.2 1001.1C2152.3 1002.7 2152.5 1004.4 2152.6 1006.1C2152.7 1007.7 2152.9 1009.4 2153 1011C2153.1 1012.7 2153.3 1014.4 2153.4 1016C2153.5 1017.7 2153.7 1019.3 2153.8 1021C2154 1022.7 2154.1 1024.3 2154.2 1026C2154.4 1027.6 2154.5 1029.3 2154.7 1031C2154.8 1032.6 2155 1034.3 2155.1 1036C2155.3 1037.6 2155.4 1039.3 2155.6 1040.9C2155.7 1042.6 2155.9 1044.3 2156 1045.9C2156.2 1047.6 2156.3 1049.2 2156.5 1050.9C2156.6 1052.6 2156.8 1054.2 2157 1055.9C2157.1 1057.5 2157.3 1059.2 2157.5 1060.8C2157.6 1062.5 2157.8 1064.2 2158 1065.8C2158.1 1067.5 2158.3 1069.1 2158.5 1070.8C2158.7 1072.5 2158.8 1074.1 2159 1075.8C2159.2 1077.4 2159.4 1079.1 2159.6 1080.7C2159.7 1082.4 2159.9 1084.1 2160.1 1085.7C2160.3 1087.4 2160.5 1089 2160.7 1090.7C2160.8 1092.3 2161 1094 2161.2 1095.7C2161.4 1097.3 2161.6 1099 2161.8 1100.6C2162 1102.3 2162.2 1103.9 2162.4 1105.6C2162.6 1107.2 2162.8 1108.9 2163 1110.6C2163.2 1112.2 2163.4 1113.9 2163.6 1115.5C2163.8 1117.2 2164 1118.8 2164.2 1120.5C2164.4 1122.1 2164.6 1123.8 2164.8 1125.5C2165 1127.1 2165.2 1128.8 2165.4 1130.4C2165.6 1132.1 2165.8 1133.7 2166 1135.4C2166.2 1137 2166.4 1138.7 2166.6 1140.3C2166.8 1142 2167 1143.7 2167.2 1145.3C2167.4 1147 2167.6 1148.6 2167.8 1150.3C2168 1151.9 2168.2 1153.6 2168.4 1155.2C2168.6 1156.9 2168.7 1158.6 2168.9 1160.2C2169.1 1161.9 2169.3 1163.5 2169.5 1165.2C2169.7 1166.8 2169.8 1168.5 2170 1170.2C2170.2 1171.8 2170.3 1173.5 2170.5 1175.1C2170.6 1176.8 2170.7 1178.5 2170.8 1180.1C2170.9 1181.8 2170.9 1183.4 2171.2 1185.1C2171.5 1187.2 2172.5 1189 2172.7 1186.5C2172.8 1185 2172.9 1183 2173 1181.4C2173.1 1179.4 2173.2 1177.8 2173.4 1176.4C2173.6 1174.6 2173.8 1173.2 2174 1171.5C2174.2 1169.9 2174.4 1168.2 2174.6 1166.5C2174.8 1164.9 2175 1163.2 2175.1 1161.5C2175.3 1159.9 2175.4 1158.2 2175.6 1156.6C2175.8 1154.9 2175.9 1153.2 2176.1 1151.6C2176.2 1149.9 2176.4 1148.3 2176.5 1146.6C2176.7 1144.9 2176.8 1143.3 2177 1141.6C2177.1 1140 2177.3 1138.3 2177.4 1136.6C2177.6 1135 2177.7 1133.3 2177.9 1131.7C2178 1130 2178.1 1128.3 2178.3 1126.7C2178.4 1125 2178.6 1123.3 2178.7 1121.7C2178.9 1120 2179 1118.4 2179.1 1116.7C2179.3 1115 2179.4 1113.4 2179.5 1111.7C2179.7 1110.1 2179.8 1108.4 2179.9 1106.7C2180.1 1105.1 2180.2 1103.4 2180.3 1101.7C2180.5 1100.1 2180.6 1098.4 2180.7 1096.8C2180.9 1095.1 2181 1093.4 2181.1 1091.8C2181.3 1090.1 2181.4 1088.4 2181.5 1086.8C2181.6 1085.1 2181.8 1083.5 2181.9 1081.8C2182 1080.1 2182.1 1078.5 2182.3 1076.8C2182.4 1075.2 2182.5 1073.5 2182.6 1071.8C2182.8 1070.2 2182.9 1068.5 2183 1066.8C2183.1 1065.2 2183.2 1063.5 2183.4 1061.9C2183.5 1060.2 2183.6 1058.5 2183.7 1056.9C2183.8 1055.2 2184 1053.5 2184.1 1051.9C2184.2 1050.2 2184.3 1048.5 2184.4 1046.9C2184.5 1045.2 2184.7 1043.6 2184.8 1041.9C2184.9 1040.2 2185 1038.6 2185.1 1036.9C2185.3 1035.2 2185.4 1033.6 2185.5 1031.9C2185.6 1030.3 2185.7 1028.6 2185.8 1026.9C2186 1025.3 2186.1 1023.6 2186.2 1021.9C2186.3 1020.3 2186.4 1018.6 2186.5 1017C2186.7 1015.3 2186.8 1013.6 2186.9 1012C2187 1010.3 2187.1 1008.6 2187.2 1007C2187.4 1005.3 2187.5 1003.7 2187.6 1002C2187.7 1000.3 2187.8 998.7 2187.9 997C2188.1 995.3 2188.2 993.7 2188.3 992C2188.4 990.3 2188.5 988.7 2188.7 987C2188.8 985.4 2188.9 983.7 2189 982C2189.1 980.4 2189.3 978.7 2189.4 977C2189.5 975.4 2189.6 973.7 2189.8 972.1C2189.9 970.4 2190 968.7 2190.1 967.1C2190.3 965.4 2190.4 963.7 2190.5 962.1C2190.6 960.4 2190.8 958.8 2190.9 957.1C2191 955.4 2191.2 953.8 2191.3 952.1C2191.5 950.5 2191.6 948.8 2191.7 947.1C2191.9 945.5 2192 943.8 2192.2 942.1C2192.3 940.5 2192.5 938.8 2192.6 937.2C2192.8 935.5 2192.9 933.8 2193.1 932.2C2193.2 930.5 2193.4 928.9 2193.5 927.2C2193.7 925.5 2193.9 923.9 2194 922.2C2194.2 920.6 2194.4 918.9 2194.5 917.3C2194.7 915.6 2194.9 913.9 2195.1 912.3C2195.3 910.6 2195.4 909 2195.6 907.3C2195.8 905.7 2196 904 2196.2 902.3C2196.4 900.7 2196.6 899 2196.8 897.4C2197 895.7 2197.2 894.1 2197.4 892.4C2197.6 890.8 2197.8 889.1 2198 887.5C2198.2 885.8 2198.5 884.1 2198.7 882.5C2198.9 880.8 2199.1 879.2 2199.4 877.5C2199.6 875.9 2199.9 874.2 2200.1 872.6C2200.3 870.9 2200.6 869.3 2200.8 867.6C2201.1 866 2201.4 864.3 2201.6 862.7C2201.9 861.1 2202.1 859.4 2202.4 857.8C2202.7 856.1 2203 854.5 2203.3 852.8C2203.5 851.2 2203.8 849.6 2204.1 847.9C2204.4 846.3 2204.7 844.6 2205 843C2205.3 841.4 2205.7 839.7 2206 838.1C2206.3 836.4 2206.6 834.8 2207 833.2C2207.3 831.5 2207.6 829.9 2208 828.3C2208.3 826.6 2208.7 825 2209 823.4C2209.4 821.8 2209.7 820.1 2210.1 818.5C2210.5 816.9 2210.9 815.3 2211.2 813.6C2211.6 812 2212 810.4 2212.4 808.8C2212.8 807.2 2213.2 805.5 2213.6 803.9C2214.1 802.3 2214.5 800.7 2214.9 799.1C2215.3 797.5 2215.8 795.9 2216.2 794.3C2216.7 792.7 2217.1 791 2217.6 789.4C2218 787.8 2218.5 786.2 2219 784.6C2219.4 783 2219.9 781.5 2220.4 779.9C2220.9 778.3 2221.4 776.7 2221.9 775.1C2222.4 773.5 2222.9 771.9 2223.5 770.3C2224 768.8 2224.5 767.2 2225.1 765.6C2225.6 764 2226.2 762.4 2226.7 760.9C2227.3 759.3 2227.8 757.7 2228.4 756.2C2229 754.6 2229.6 753.1 2230.2 751.5C2230.8 749.9 2231.4 748.4 2232 746.8C2232.6 745.3 2233.2 743.7 2233.9 742.2C2234.5 740.7 2235.2 739.1 2235.8 737.6C2236.5 736 2237.1 734.5 2237.8 733C2238.5 731.5 2239.1 729.9 2239.8 728.4C2240.5 726.9 2241.2 725.4 2241.9 723.9C2242.7 722.4 2243.4 720.9 2244.1 719.4" fill="none" stroke="#000" stroke-width="9.5" stroke-linejoin="round" clip-path="url(#ca)"/>
<rect x="302.5" y="52.5" width="1941" height="1144.8" fill="none" stroke="#262626" stroke-width="3.0"/><path d="M545.1 1197.3v-20M545.1 52.5v20M787.8 1197.3v-20M787.8 52.5v20M1030.4 1197.3v-20M1030.4 52.5v20M1273 1197.3v-20M1273 52.5v20M1515.6 1197.3v-20M1515.6 52.5v20M1758.2 1197.3v-20M1758.2 52.5v20M2000.9 1197.3v-20M2000.9 52.5v20M302.5 195.6h20M2243.5 195.6h-20M302.5 338.7h20M2243.5 338.7h-20M302.5 481.8h20M2243.5 481.8h-20M302.5 624.9h20M2243.5 624.9h-20M302.5 768h20M2243.5 768h-20M302.5 911.1h20M2243.5 911.1h-20M302.5 1054.2h20M2243.5 1054.2h-20" fill="none" stroke="#262626" stroke-width="3.0"/>
<text x="302.5" y="1283.3" font-size="69.5" text-anchor="middle" fill="#262626">0</text>
<text x="545.1" y="1283.3" font-size="69.5" text-anchor="middle" fill="#262626">10</text>
<text x="787.8" y="1283.3" font-size="69.5" text-anchor="middle" fill="#262626">20</text>
<text x="1030.4" y="1283.3" font-size="69.5" text-anchor="middle" fill="#262626">30</text>
<text x="1273" y="1283.3" font-size="69.5" text-anchor="middle" fill="#262626">40</text>
<text x="1515.6" y="1283.3" font-size="69.5" text-anchor="middle" fill="#262626">50</text>
<text x="1758.2" y="1283.3" font-size="69.5" text-anchor="middle" fill="#262626">60</text>
<text x="2000.9" y="1283.3" font-size="69.5" text-anchor="middle" fill="#262626">70</text>
<text x="2243.5" y="1283.3" font-size="69.5" text-anchor="middle" fill="#262626">80</text>
<text x="279.3" y="76.1" font-size="69.5" text-anchor="end" fill="#262626">0</text>
<text x="279.3" y="219.2" font-size="69.5" text-anchor="end" fill="#262626">-5</text>
<text x="279.3" y="362.3" font-size="69.5" text-anchor="end" fill="#262626">-10</text>
<text x="279.3" y="505.4" font-size="69.5" text-anchor="end" fill="#262626">-15</text>
<text x="279.3" y="648.5" font-size="69.5" text-anchor="end" fill="#262626">-20</text>
<text x="279.3" y="791.6" font-size="69.5" text-anchor="end" fill="#262626">-25</text>
<text x="279.3" y="934.7" font-size="69.5" text-anchor="end" fill="#262626">-30</text>
<text x="279.3" y="1077.8" font-size="69.5" text-anchor="end" fill="#262626">-35</text>
<text x="279.3" y="1220.9" font-size="69.5" text-anchor="end" fill="#262626">-40</text>
<text x="1273" y="1373" font-size="76.4" text-anchor="middle" fill="#262626" letter-spacing="0.4">Frequency / GHz</text>
<text transform="translate(146.7 624.9) rotate(-90)" font-size="76.4" text-anchor="middle" fill="#3a3a3a">Reflection Coefficient Magnitude / dB</text>
<rect x="1535.6" y="84.2" width="676.9" height="306.4" fill="#fff" stroke="#262626" stroke-width="3.0"/><path d="M1547 126.5H1664.2" stroke="#f00" stroke-width="9.2" stroke-dasharray="24 5 12 5" fill="none"/><path d="M1547 200.4H1664.2" stroke="#00f" stroke-width="9.2" stroke-dasharray="24 22" fill="none"/><circle cx="1605.5" cy="274.2" r="12.2" fill="#f0f"/><path d="M1547 348.5H1664.2" stroke="#000" stroke-width="9.2" fill="none"/><text x="1673" y="148.1" font-size="62.5" text-anchor="start" fill="#000">JEC-FDTD Method</text><text x="1673" y="222.2" font-size="62.5" text-anchor="start" fill="#000">ADE-FDTD Method</text><text x="1673" y="295.7" font-size="62.5" text-anchor="start" fill="#000">Proposed Method</text><text x="1673" y="369.8" font-size="62.5" text-anchor="start" fill="#000">Exact</text>
<rect x="614.9" y="576.2" width="780.6" height="414" fill="#fff"/>
<clipPath id="ci"><rect x="614.9" y="576.2" width="780.6" height="414"/></clipPath>
<g clip-path="url(#ci)" fill="none" stroke-linejoin="round">
<path d="M491.5 599.6L535.8 459.1L580.1 347.1L624.3 297.4L668.6 290.5L712.9 320.5L757.2 393.5L801.5 532.4L845.7 763L890 637.4L934.3 471.6L978.6 393.8L1022.8 363.6L1067.1 369.7L1111.4 411.3L1155.7 495.8L1200 659.2L1244.2 920.8L1288.5 696.3L1332.8 538L1377.1 462.6" stroke="#f00" stroke-width="9.2" stroke-dasharray="24 5 12 5" stroke-dashoffset="26.5"/>
<path d="M491.5 599.6L535.8 459.1L580.1 347.1L624.3 297.4L668.6 290.5L712.9 320.5L757.2 393.5L801.5 532.4L845.7 763L890 637.4L934.3 471.6L978.6 393.8L1022.8 363.6L1067.1 369.7L1111.4 411.3L1155.7 495.8L1200 659.2L1244.2 920.8L1288.5 696.3L1332.8 538L1377.1 462.6" stroke="#00f" stroke-width="9.2" stroke-dasharray="24 22" stroke-dashoffset="26.5"/>
</g>
<g fill="#f0f">
<circle cx="845.7" cy="783.7" r="12.2"/>
<circle cx="890" cy="637.4" r="12.2"/>
<circle cx="1200" cy="659.2" r="12.2"/>
<circle cx="1244.2" cy="970.7" r="12.2"/>
<circle cx="1288.5" cy="696.3" r="12.2"/>
</g>
<path d="M533.7 504.9C534.2 503.1 534.7 501.3 535.2 499.5C535.7 497.7 536.2 495.8 536.8 494C537.3 492.2 537.8 490.4 538.3 488.6C538.8 486.8 539.3 485 539.7 483.2C540.2 481.3 540.7 479.5 541.2 477.7C541.7 475.9 542.2 474.1 542.7 472.3C543.2 470.4 543.6 468.6 544.1 466.8C544.6 465 545.1 463.2 545.5 461.4C546 459.5 546.5 457.7 546.9 455.9C547.4 454.1 547.9 452.3 548.3 450.5C548.8 448.6 549.2 446.8 549.7 445C550.1 443.2 550.6 441.4 551 439.5C551.4 437.7 551.9 435.9 552.3 434.1C552.7 432.3 553.2 430.4 553.6 428.6C554 426.8 554.4 425 554.9 423.2C555.3 421.3 555.7 419.5 556.1 417.7C556.5 415.9 556.9 414.1 557.3 412.2C557.7 410.4 558.2 408.6 558.6 406.8C559 405 559.4 403.1 559.8 401.3C560.3 399.5 560.7 397.7 561.1 395.8C561.6 394 562 392.2 562.5 390.4C563 388.6 563.5 386.8 564 385C564.5 383.1 565 381.3 565.6 379.5C566.1 377.7 566.7 375.9 567.2 374.1C567.8 372.3 568.4 370.5 569.1 368.7C569.7 366.9 570.4 365.1 571.1 363.3C571.7 361.5 572.5 359.7 573.2 357.9C573.9 356.2 574.7 354.4 575.5 352.6C576.3 350.8 577.1 349.1 578 347.3C578.9 345.5 579.8 343.8 580.7 342C581.6 340.3 582.6 338.5 583.6 336.8C584.7 335 585.7 333.3 586.8 331.6C588 329.9 589.1 328.2 590.4 326.5C591.6 324.8 592.9 323.1 594.2 321.5C595.6 319.8 597.1 318.2 598.6 316.6C600.1 315 601.7 313.4 603.4 311.9C605.1 310.3 606.9 308.8 608.8 307.4C610.7 305.9 612.7 304.5 614.9 303.2C617 301.8 619.3 300.5 621.6 299.4C624 298.2 626.5 297.1 629.1 296.1C631.7 295.1 634.4 294.2 637.3 293.4C640 292.6 643 292 646 291.4C648.9 290.9 652 290.5 655.1 290.3C658.2 290 661.3 289.8 664.4 289.8C667.6 289.8 670.7 289.9 673.7 290.2C676.9 290.5 679.9 291 682.8 291.6C685.7 292.3 688.5 293.1 691 294.1C693.6 295.2 696 296.4 698.2 297.7C700.4 299 702.4 300.4 704.3 301.9C706.1 303.3 707.8 304.9 709.4 306.5C711 308 712.5 309.6 713.9 311.3C715.3 312.9 716.6 314.6 717.9 316.3C719.2 318 720.4 319.7 721.6 321.3C722.8 323.1 724 324.8 725.2 326.4C726.3 328.2 727.5 329.9 728.7 331.6C729.9 333.3 731 335 732.2 336.7C733.3 338.4 734.5 340.1 735.6 341.8C736.8 343.5 737.9 345.2 739 346.9C740.1 348.7 741.2 350.4 742.3 352.1C743.4 353.8 744.5 355.5 745.6 357.2C746.7 359 747.7 360.7 748.8 362.4C749.8 364.2 750.8 365.9 751.9 367.6C752.9 369.4 753.9 371.1 754.8 372.9C755.8 374.6 756.8 376.4 757.7 378.1C758.7 379.9 759.6 381.6 760.5 383.4C761.4 385.1 762.3 386.9 763.1 388.7C764 390.4 764.8 392.2 765.6 394C766.4 395.7 767.2 397.5 768 399.3C768.8 401.1 769.5 402.9 770.3 404.7C771 406.4 771.7 408.2 772.5 410C773.2 411.8 773.8 413.6 774.5 415.4C775.2 417.2 775.9 419 776.5 420.8C777.2 422.6 777.8 424.4 778.5 426.2C779.1 428 779.7 429.8 780.3 431.6C780.9 433.4 781.6 435.2 782.2 437C782.8 438.8 783.4 440.6 783.9 442.4C784.5 444.2 785.1 446 785.7 447.8C786.3 449.6 786.9 451.4 787.4 453.2C788 455 788.6 456.8 789.2 458.6C789.7 460.4 790.3 462.3 790.9 464.1C791.4 465.9 792 467.7 792.6 469.5C793.1 471.3 793.7 473.1 794.2 474.9C794.8 476.7 795.3 478.5 795.9 480.3C796.4 482.1 797 484 797.5 485.8C798 487.6 798.6 489.4 799.1 491.2C799.6 493 800.2 494.8 800.7 496.6C801.2 498.4 801.7 500.3 802.2 502.1C802.8 503.9 803.3 505.7 803.8 507.5C804.3 509.3 804.8 511.1 805.3 512.9C805.8 514.8 806.3 516.6 806.8 518.4C807.3 520.2 807.8 522 808.2 523.8C808.7 525.6 809.2 527.5 809.7 529.3C810.2 531.1 810.6 532.9 811.1 534.7C811.6 536.5 812 538.4 812.5 540.2C812.9 542 813.4 543.8 813.8 545.6C814.3 547.5 814.7 549.3 815.1 551.1C815.6 552.9 816 554.7 816.4 556.6C816.9 558.4 817.3 560.2 817.7 562C818.1 563.8 818.5 565.7 818.9 567.5C819.4 569.3 819.8 571.1 820.2 573C820.5 574.8 820.9 576.6 821.3 578.4C821.7 580.2 822.1 582.1 822.5 583.9C822.8 585.7 823.2 587.5 823.6 589.4C823.9 591.2 824.3 593 824.7 594.8C825 596.7 825.4 598.5 825.7 600.3C826 602.1 826.4 604 826.7 605.8C827 607.6 827.4 609.5 827.7 611.3C828 613.1 828.3 614.9 828.6 616.8C828.9 618.6 829.2 620.4 829.5 622.3C829.8 624.1 830.1 625.9 830.4 627.7C830.7 629.6 830.9 631.4 831.2 633.2C831.5 635.1 831.8 636.9 832 638.7C832.3 640.6 832.5 642.4 832.8 644.2C833 646.1 833.3 647.9 833.5 649.7C833.7 651.6 833.9 653.4 834.2 655.2C834.4 657.1 834.6 658.9 834.8 660.7C835 662.6 835.2 664.4 835.4 666.2C835.6 668.1 835.8 669.9 836 671.7C836.2 673.6 836.3 675.4 836.5 677.2C836.7 679.1 836.9 680.9 837.1 682.7C837.3 684.6 837.5 686.4 837.7 688.2C837.9 690.1 838 691.9 838.3 693.7C838.5 695.6 838.7 697.4 838.9 699.2C839.1 701.1 839.3 702.9 839.6 704.7C839.8 706.6 840.1 708.4 840.3 710.2C840.6 712.1 840.9 713.9 841.2 715.7C841.5 717.6 841.8 719.4 842.1 721.2C842.4 723 842.8 724.9 843.1 726.7C843.5 728.5 843.9 730.3 844.3 732.2C844.7 734 845.1 735.8 845.6 737.6C846 739.4 846.5 741.3 847 743.1C847.5 744.9 848.1 746.7 848.6 748.5C849.2 750.3 849.8 752.1 850.4 753.9C851 755.7 851.7 757.5 852.3 759.3C853 761.1 853.7 762.9 854.3 764.7C855 766.5 855.7 768.3 856.3 770.1C857 771.9 857.6 773.7 858.2 775.5C858.8 777.3 859.3 779.1 859.8 780.9C860.3 782.7 860.7 784.5 861 786.4C861.4 788.2 861.7 790 862 791.9C862.3 793.7 862.5 795.5 862.8 797.3C863.2 799.2 863.5 801.1 863.9 802.8C864.2 804.7 864.6 806.3 865 808.3C865.2 809.8 865.4 812 865.8 813.9C866.5 816.7 868.4 814 868.8 811.7C869.2 809.9 869.6 808.1 870 806.2C870.4 804.4 870.7 802.6 871.1 800.8C871.5 798.9 871.9 797.1 872.2 795.3C872.6 793.5 873 791.6 873.3 789.8C873.7 788 874.1 786.2 874.4 784.3C874.8 782.5 875.2 780.7 875.5 778.9C875.9 777 876.2 775.2 876.6 773.4C876.9 771.6 877.3 769.7 877.6 767.9C878 766.1 878.3 764.3 878.7 762.4C879 760.6 879.4 758.8 879.7 756.9C880.1 755.1 880.4 753.3 880.8 751.5C881.1 749.6 881.4 747.8 881.8 746C882.1 744.2 882.5 742.3 882.8 740.5C883.1 738.7 883.5 736.9 883.8 735C884.1 733.2 884.5 731.4 884.8 729.5C885.1 727.7 885.5 725.9 885.8 724.1C886.1 722.2 886.5 720.4 886.8 718.6C887.1 716.8 887.5 714.9 887.8 713.1C888.1 711.3 888.5 709.4 888.8 707.6C889.1 705.8 889.5 704 889.8 702.1C890.1 700.3 890.5 698.5 890.8 696.7C891.1 694.8 891.5 693 891.8 691.2C892.1 689.3 892.5 687.5 892.8 685.7C893.1 683.9 893.5 682 893.8 680.2C894.1 678.4 894.5 676.6 894.8 674.7C895.2 672.9 895.5 671.1 895.8 669.2C896.2 667.4 896.5 665.6 896.8 663.8C897.2 661.9 897.5 660.1 897.9 658.3C898.2 656.5 898.6 654.6 898.9 652.8C899.3 651 899.6 649.2 900 647.3C900.3 645.5 900.7 643.7 901 641.9C901.4 640 901.7 638.2 902.1 636.4C902.4 634.6 902.8 632.7 903.2 630.9C903.5 629.1 903.9 627.2 904.2 625.4C904.6 623.6 905 621.8 905.4 619.9C905.7 618.1 906.1 616.3 906.5 614.5C906.8 612.7 907.2 610.8 907.6 609C908 607.2 908.4 605.4 908.8 603.5C909.1 601.7 909.5 599.9 909.9 598.1C910.3 596.2 910.7 594.4 911.1 592.6C911.5 590.8 911.9 588.9 912.3 587.1C912.7 585.3 913.1 583.5 913.5 581.7C913.9 579.8 914.4 578 914.8 576.2C915.2 574.4 915.6 572.6 916.1 570.7C916.5 568.9 916.9 567.1 917.3 565.3C917.8 563.5 918.2 561.6 918.7 559.8C919.1 558 919.5 556.2 920 554.4C920.4 552.5 920.9 550.7 921.4 548.9C921.8 547.1 922.3 545.3 922.7 543.5C923.2 541.6 923.7 539.8 924.2 538C924.6 536.2 925.1 534.4 925.6 532.6C926.1 530.7 926.6 528.9 927.1 527.1C927.6 525.3 928.1 523.5 928.6 521.7C929.1 519.9 929.6 518 930.1 516.2C930.6 514.4 931.1 512.6 931.7 510.8C932.2 509 932.7 507.2 933.3 505.4C933.8 503.6 934.3 501.7 934.9 499.9C935.5 498.1 936 496.3 936.6 494.5C937.2 492.7 937.8 490.9 938.3 489.1C938.9 487.3 939.5 485.5 940.2 483.7C940.8 481.9 941.4 480.1 942.1 478.3C942.7 476.5 943.4 474.7 944 472.9C944.7 471.1 945.4 469.3 946.1 467.5C946.8 465.7 947.5 463.9 948.3 462.2C949 460.4 949.8 458.6 950.6 456.8C951.3 455 952.1 453.3 952.9 451.5C953.8 449.7 954.6 447.9 955.5 446.2C956.3 444.4 957.2 442.6 958.1 440.9C959 439.1 959.9 437.4 960.9 435.6C961.8 433.9 962.8 432.1 963.8 430.4C964.8 428.6 965.8 426.9 966.9 425.2C967.9 423.5 969 421.7 970.1 420C971.2 418.3 972.4 416.6 973.5 414.9C974.7 413.2 975.9 411.5 977.1 409.8C978.3 408.1 979.6 406.4 980.8 404.7C982.1 403.1 983.4 401.4 984.8 399.7C986.1 398.1 987.5 396.4 988.9 394.8C990.3 393.1 991.7 391.5 993.1 389.9C994.6 388.3 996.1 386.6 997.6 385C999.2 383.4 1000.8 381.8 1002.5 380.3C1004.2 378.7 1006 377.2 1007.9 375.8C1009.9 374.4 1012 373 1014.2 371.8C1016.5 370.5 1019 369.4 1021.7 368.5C1024.4 367.6 1027.3 366.9 1030.3 366.4C1033.3 366 1036.4 365.8 1039.6 365.7C1042.6 365.6 1045.8 365.8 1048.9 366C1052 366.2 1055 366.6 1058.1 367.1C1061.1 367.6 1064.1 368.2 1066.9 368.9C1069.8 369.6 1072.6 370.4 1075.3 371.3C1078 372.2 1080.6 373.2 1083.1 374.3C1085.6 375.5 1087.9 376.7 1090.2 377.9C1092.4 379.2 1094.5 380.6 1096.5 382C1098.5 383.4 1100.4 384.9 1102.1 386.4C1103.9 387.9 1105.5 389.4 1107.1 391C1108.7 392.6 1110.1 394.2 1111.5 395.9C1112.9 397.5 1114.3 399.2 1115.5 400.9C1116.8 402.5 1118 404.2 1119.2 406C1120.4 407.7 1121.5 409.4 1122.6 411.1C1123.7 412.8 1124.8 414.5 1125.8 416.3C1126.9 418 1127.9 419.7 1129 421.4C1130 423.2 1131.1 424.9 1132.1 426.6C1133.2 428.4 1134.2 430.1 1135.2 431.8C1136.3 433.6 1137.3 435.3 1138.3 437.1C1139.3 438.8 1140.3 440.5 1141.3 442.3C1142.3 444 1143.3 445.8 1144.3 447.5C1145.3 449.2 1146.2 451 1147.2 452.7C1148.2 454.5 1149.1 456.2 1150.1 458C1151 459.7 1152 461.5 1152.9 463.2C1153.8 465 1154.7 466.8 1155.6 468.5C1156.5 470.3 1157.4 472 1158.3 473.8C1159.1 475.6 1160 477.3 1160.9 479.1C1161.7 480.9 1162.5 482.6 1163.3 484.4C1164.2 486.2 1165 488 1165.8 489.7C1166.5 491.5 1167.3 493.3 1168.1 495.1C1168.8 496.9 1169.6 498.6 1170.3 500.4C1171.1 502.2 1171.8 504 1172.5 505.8C1173.2 507.6 1173.9 509.4 1174.6 511.2C1175.3 513 1176 514.7 1176.6 516.5C1177.3 518.3 1177.9 520.1 1178.6 521.9C1179.2 523.7 1179.8 525.5 1180.5 527.3C1181.1 529.1 1181.7 530.9 1182.3 532.7C1182.9 534.5 1183.4 536.4 1184 538.2C1184.6 540 1185.1 541.8 1185.7 543.6C1186.2 545.4 1186.8 547.2 1187.3 549C1187.8 550.8 1188.4 552.6 1188.9 554.4C1189.4 556.3 1189.9 558.1 1190.4 559.9C1190.9 561.7 1191.4 563.5 1191.8 565.3C1192.3 567.2 1192.8 569 1193.2 570.8C1193.7 572.6 1194.1 574.4 1194.6 576.2C1195 578.1 1195.4 579.9 1195.9 581.7C1196.3 583.5 1196.7 585.3 1197.1 587.2C1197.5 589 1197.9 590.8 1198.3 592.6C1198.7 594.5 1199.1 596.3 1199.5 598.1C1199.8 599.9 1200.2 601.8 1200.6 603.6C1200.9 605.4 1201.3 607.2 1201.7 609.1C1202 610.9 1202.4 612.7 1202.7 614.5C1203 616.4 1203.4 618.2 1203.7 620C1204 621.8 1204.4 623.7 1204.7 625.5C1205 627.3 1205.3 629.2 1205.6 631C1205.9 632.8 1206.2 634.6 1206.5 636.5C1206.8 638.3 1207.1 640.1 1207.4 642C1207.7 643.8 1208 645.6 1208.3 647.5C1208.5 649.3 1208.8 651.1 1209.1 652.9C1209.4 654.8 1209.6 656.6 1209.9 658.4C1210.2 660.3 1210.4 662.1 1210.7 663.9C1210.9 665.8 1211.2 667.6 1211.5 669.4C1211.7 671.3 1212 673.1 1212.2 674.9C1212.5 676.8 1212.7 678.6 1212.9 680.4C1213.2 682.2 1213.4 684.1 1213.7 685.9C1213.9 687.7 1214.2 689.6 1214.4 691.4C1214.6 693.2 1214.9 695.1 1215.1 696.9C1215.3 698.7 1215.6 700.6 1215.8 702.4C1216 704.2 1216.3 706.1 1216.5 707.9C1216.7 709.7 1217 711.6 1217.2 713.4C1217.4 715.2 1217.6 717.1 1217.9 718.9C1218.1 720.7 1218.3 722.6 1218.6 724.4C1218.8 726.2 1219 728.1 1219.2 729.9C1219.5 731.7 1219.7 733.6 1219.9 735.4C1220.2 737.2 1220.4 739.1 1220.6 740.9C1220.9 742.7 1221.1 744.6 1221.3 746.4C1221.6 748.2 1221.8 750.1 1222 751.9C1222.3 753.7 1222.5 755.6 1222.7 757.4C1223 759.2 1223.2 761.1 1223.4 762.9C1223.7 764.7 1223.9 766.5 1224.2 768.4C1224.4 770.2 1224.6 772 1224.9 773.9C1225.1 775.7 1225.4 777.5 1225.6 779.4C1225.9 781.2 1226.1 783 1226.4 784.9C1226.6 786.7 1226.9 788.5 1227.1 790.4C1227.4 792.2 1227.6 794 1227.9 795.9C1228.2 797.7 1228.4 799.5 1228.7 801.4C1229 803.2 1229.2 805 1229.5 806.8C1229.8 808.7 1230 810.5 1230.3 812.3C1230.6 814.2 1230.9 816 1231.2 817.8C1231.4 819.7 1231.7 821.5 1232 823.3C1232.3 825.1 1232.6 827 1232.9 828.8C1233.2 830.6 1233.5 832.5 1233.8 834.3C1234.1 836.1 1234.4 838 1234.7 839.8C1235 841.6 1235.3 843.4 1235.7 845.3C1236 847.1 1236.3 848.9 1236.6 850.7C1237 852.6 1237.3 854.4 1237.6 856.2C1238 858.1 1238.3 859.9 1238.6 861.7C1239 863.5 1239.3 865.4 1239.7 867.2C1240 869 1240.3 870.8 1240.7 872.7C1241 874.5 1241.4 876.3 1241.8 878.1C1242.1 880 1242.5 881.8 1242.8 883.6C1243.2 885.5 1243.5 887.3 1243.9 889.1C1244.3 890.9 1244.6 892.8 1245 894.6C1245.4 896.4 1245.7 898.2 1246.1 900.1C1246.5 901.9 1246.8 903.7 1247.2 905.5C1247.6 907.3 1248 909.2 1248.3 911C1248.7 912.8 1249.1 914.6 1249.5 916.5C1249.8 918.3 1250.2 920.1 1250.6 921.9C1251 923.8 1251.3 925.6 1251.7 927.4C1252.1 929.2 1252.5 931.1 1252.8 932.9C1253.2 934.7 1253.6 936.5 1254 938.4C1254.3 940.2 1254.7 942 1255.1 943.8C1255.4 945.7 1255.8 947.5 1256.2 949.3C1256.5 951.1 1256.8 953 1257.2 954.8C1257.5 956.6 1257.8 958.4 1258.1 960.3C1258.4 962.1 1258.7 963.9 1259 965.8C1259.3 967.6 1259.5 969.4 1259.7 971.3C1259.9 973.1 1259.9 974.9 1260.4 976.8C1261 979.1 1262.8 981.1 1263.2 978.3C1263.5 976.7 1263.5 974.5 1263.7 972.7C1263.9 970.4 1264.2 968.7 1264.5 967.2C1264.9 965.2 1265.3 963.6 1265.7 961.7C1266.1 960 1266.4 958.2 1266.8 956.3C1267.1 954.5 1267.4 952.6 1267.7 950.8C1268 948.9 1268.3 947.1 1268.6 945.3C1268.9 943.5 1269.2 941.6 1269.5 939.8C1269.8 938 1270.1 936.1 1270.3 934.3C1270.6 932.5 1270.9 930.6 1271.2 928.8C1271.5 927 1271.7 925.2 1272 923.3C1272.3 921.5 1272.6 919.7 1272.8 917.8C1273.1 916 1273.4 914.2 1273.6 912.3C1273.9 910.5 1274.2 908.7 1274.4 906.8C1274.7 905 1275 903.2 1275.2 901.4C1275.5 899.5 1275.7 897.7 1276 895.9C1276.2 894 1276.5 892.2 1276.7 890.4C1277 888.5 1277.2 886.7 1277.5 884.9C1277.7 883 1278 881.2 1278.2 879.4C1278.5 877.5 1278.7 875.7 1278.9 873.9C1279.2 872 1279.4 870.2 1279.7 868.4C1279.9 866.5 1280.1 864.7 1280.4 862.9C1280.6 861 1280.8 859.2 1281.1 857.4C1281.3 855.5 1281.5 853.7 1281.7 851.9C1282 850 1282.2 848.2 1282.4 846.4C1282.7 844.5 1282.9 842.7 1283.1 840.9C1283.3 839.1 1283.6 837.2 1283.8 835.4C1284 833.6 1284.2 831.7 1284.5 829.9C1284.7 828.1 1284.9 826.2 1285.1 824.4C1285.3 822.6 1285.6 820.7 1285.8 818.9C1286 817.1 1286.2 815.2 1286.4 813.4C1286.7 811.6 1286.9 809.7 1287.1 807.9C1287.3 806.1 1287.5 804.2 1287.7 802.4C1288 800.6 1288.2 798.7 1288.4 796.9C1288.6 795.1 1288.8 793.2 1289.1 791.4C1289.3 789.6 1289.5 787.7 1289.7 785.9C1289.9 784.1 1290.1 782.2 1290.4 780.4C1290.6 778.6 1290.8 776.7 1291 774.9C1291.2 773.1 1291.5 771.2 1291.7 769.4C1291.9 767.6 1292.1 765.7 1292.3 763.9C1292.6 762.1 1292.8 760.2 1293 758.4C1293.2 756.6 1293.5 754.7 1293.7 752.9C1293.9 751.1 1294.1 749.2 1294.4 747.4C1294.6 745.6 1294.8 743.7 1295.1 741.9C1295.3 740.1 1295.5 738.2 1295.8 736.4C1296 734.6 1296.2 732.7 1296.5 730.9C1296.7 729.1 1297 727.2 1297.2 725.4C1297.5 723.6 1297.7 721.7 1298 719.9C1298.2 718.1 1298.5 716.3 1298.8 714.4C1299 712.6 1299.3 710.8 1299.6 708.9C1299.9 707.1 1300.1 705.3 1300.4 703.4C1300.7 701.6 1301 699.8 1301.3 697.9C1301.6 696.1 1301.9 694.3 1302.2 692.5C1302.5 690.6 1302.8 688.8 1303.1 687C1303.4 685.1 1303.7 683.3 1304 681.5C1304.3 679.7 1304.7 677.8 1305 676C1305.3 674.2 1305.7 672.3 1306 670.5C1306.4 668.7 1306.7 666.9 1307.1 665C1307.4 663.2 1307.8 661.4 1308.2 659.6C1308.6 657.7 1308.9 655.9 1309.3 654.1C1309.7 652.3 1310.1 650.5 1310.5 648.6C1310.9 646.8 1311.3 645 1311.8 643.2C1312.2 641.3 1312.6 639.5 1313.1 637.7C1313.5 635.9 1313.9 634.1 1314.4 632.2C1314.8 630.4 1315.3 628.6 1315.8 626.8C1316.3 625 1316.7 623.2 1317.2 621.3C1317.7 619.5 1318.2 617.7 1318.7 615.9C1319.3 614.1 1319.8 612.3 1320.3 610.5C1320.8 608.7 1321.4 606.9 1321.9 605C1322.5 603.2 1323 601.4 1323.6 599.6C1324.2 597.8 1324.8 596 1325.4 594.2C1326 592.4 1326.6 590.6 1327.2 588.8C1327.8 587 1328.5 585.2 1329.1 583.4C1329.7 581.6 1330.4 579.8 1331.1 578C1331.7 576.2 1332.4 574.4 1333.1 572.6C1333.8 570.8 1334.5 569 1335.2 567.3C1335.9 565.5 1336.7 563.7 1337.4 561.9C1338.2 560.1 1338.9 558.3 1339.7 556.6C1340.5 554.8 1341.3 553 1342.1 551.2C1342.9 549.4 1343.7 547.7 1344.5 545.9C1345.3 544.1 1346.2 542.4 1347 540.6C1347.9 538.8 1348.8 537.1 1349.6 535.3C1350.5 533.5 1351.4 531.8 1352.4 530C1353.3 528.3 1354.2 526.5 1355.2 524.8C1356.1 523 1357.1 521.3 1358.1 519.5C1359 517.8 1360 516 1361 514.3C1362.1 512.6 1363.1 510.8 1364.1 509.1C1365.2 507.4 1366.2 505.6 1367.3 503.9C1368.4 502.2 1369.5 500.5 1370.6 498.8C1371.7 497 1372.9 495.3 1374 493.6C1375.2 491.9 1376.3 490.2 1377.5 488.5C1378.7 486.8 1379.9 485.1 1381.1 483.4C1382.3 481.7 1383.6 480 1384.8 478.4C1386.1 476.7 1387.4 475 1388.7 473.3C1390 471.7 1391.3 470 1392.6 468.3C1393.9 466.7 1395.3 465 1396.6 463.4" fill="none" stroke="#000" stroke-width="9.5" stroke-linejoin="round" clip-path="url(#ci)"/>
<rect x="614.9" y="576.2" width="780.6" height="414" fill="none" stroke="#262626" stroke-width="3.0"/><path d="M715.4 990.2v-9.7M715.4 576.2v9.7M942.1 990.2v-9.7M942.1 576.2v9.7M1168.8 990.2v-9.7M1168.8 576.2v9.7M614.9 674.7h9.7M1395.5 674.7h-9.7M614.9 832.5h9.7M1395.5 832.5h-9.7" fill="none" stroke="#262626" stroke-width="3.0"/>
<text x="715.4" y="1076.6" font-size="69.5" text-anchor="middle" fill="#262626">65</text>
<text x="942.1" y="1076.6" font-size="69.5" text-anchor="middle" fill="#262626">70</text>
<text x="1168.8" y="1076.6" font-size="69.5" text-anchor="middle" fill="#262626">75</text>
<text x="1395.5" y="1076.6" font-size="69.5" text-anchor="middle" fill="#262626">80</text>
<text x="591.6" y="698.3" font-size="69.5" text-anchor="end" fill="#262626">-30</text>
<text x="591.6" y="856.1" font-size="69.5" text-anchor="end" fill="#262626">-35</text>
<text x="591.6" y="1013.8" font-size="69.5" text-anchor="end" fill="#262626">-40</text>
<path d="M1397 797.6L1898.5 1013.2" stroke="#000" stroke-width="3" fill="none"/>
<path d="M1926 1024.8L1880.8 1023L1897.8 1012.9L1893 994.8Z" fill="#000"/>
<text x="1096.4" y="1595" font-size="87" text-anchor="middle" fill="#000">(<tspan font-weight="bold">a</tspan>)</text>
</g>
<clipPath id="cb"><rect x="289" y="1847.9" width="1949" height="1175.1"/></clipPath>
<g id="plotB">
<g clip-path="url(#cb)" fill="none" stroke-linejoin="round">
<path d="M305.4 1911.2L329 1965.3L352.7 2930L376.4 1919.4L400.1 1949L423.8 1916.3L447.5 1916.3L471.2 1933.7L494.9 1931.6L518.6 1931.6L542.2 1936.7L565.9 1939.8L589.6 1944" stroke="#f00" stroke-width="9.2" stroke-dasharray="26.5 5.5 13.5 5.5" stroke-dashoffset="0"/>
<path d="M589.6 1944L613.3 1949L637 1956.6L660.7 1964.3L684.4 1975.4L708.1 1987.2L731.8 2000.3L755.5 2014L779.2 2029.3L802.8 2044.3L826.5 2057.7L850.2 2073L873.9 2087.5L897.6 2102L921.3 2117.4L945 2132.7L968.7 2148.7L992.4 2164L1016.1 2181.6L1039.7 2198.5L1063.4 2216.8L1087.1 2236L1110.8 2256.6L1134.5 2278.8L1158.2 2303.6L1181.9 2329.3L1205.6 2354.3L1229.3 2373.6L1253 2390.5L1276.6 2404.1L1300.3 2398.9L1324 2393.6L1347.7 2413.3L1371.4 2440L1395.1 2440L1418.8 2405.2L1442.5 2375.4L1466.2 2394L1489.8 2433.3L1513.5 2469.9L1537.2 2484.2L1560.9 2456.8L1584.6 2360.6L1608.3 2355.4L1632 2391.2L1655.7 2436.8L1679.4 2483L1703.1 2521.7L1726.8 2526L1750.4 2406.4L1774.1 2327.6L1797.8 2348.7L1821.5 2392.4L1845.2 2440.3L1868.9 2489L1892.6 2534.1L1916.3 2556.5L1940 2494.8L1963.7 2312.1L1987.3 2323.2L2011 2365.3L2034.7 2414.5L2058.4 2463.6L2082.1 2513.3L2105.8 2558.5L2129.5 2577.1L2153.2 2462.6L2176.9 2295.4L2200.6 2321L2224.2 2367.6L2247.9 2414" stroke="#f00" stroke-width="9.2" stroke-dasharray="26.5 5.5 13.5 5.5" stroke-dashoffset="4.8"/>
<path d="M305.4 1911.2L329 1965.3L352.7 2930L376.4 1919.4L400.1 1949L423.8 1916.3L447.5 1916.3L471.2 1933.7L494.9 1931.6L518.6 1931.6L542.2 1936.7L565.9 1939.8L589.6 1944" stroke="#00f" stroke-width="9.2" stroke-dasharray="26.5 24.5" stroke-dashoffset="0"/>
<path d="M589.6 1944L613.3 1949L637 1956.6L660.7 1964.3L684.4 1975.4L708.1 1987.2L731.8 2000.3L755.5 2014L779.2 2029.3L802.8 2044.3L826.5 2057.7L850.2 2073L873.9 2087.5L897.6 2102L921.3 2117.4L945 2132.7L968.7 2148.7L992.4 2164L1016.1 2181.6L1039.7 2198.5L1063.4 2216.8L1087.1 2236L1110.8 2256.6L1134.5 2278.8L1158.2 2303.6L1181.9 2329.3L1205.6 2354.3L1229.3 2373.6L1253 2390.5L1276.6 2404.1L1300.3 2398.9L1324 2393.6L1347.7 2413.3L1371.4 2440L1395.1 2440L1418.8 2405.2L1442.5 2375.4L1466.2 2394L1489.8 2433.3L1513.5 2469.9L1537.2 2484.2L1560.9 2456.8L1584.6 2360.6L1608.3 2355.4L1632 2391.2L1655.7 2436.8L1679.4 2483L1703.1 2521.7L1726.8 2526L1750.4 2406.4L1774.1 2327.6L1797.8 2348.7L1821.5 2392.4L1845.2 2440.3L1868.9 2489L1892.6 2534.1L1916.3 2556.5L1940 2494.8L1963.7 2312.1L1987.3 2323.2L2011 2365.3L2034.7 2414.5L2058.4 2463.6L2082.1 2513.3L2105.8 2558.5L2129.5 2577.1L2153.2 2462.6L2176.9 2295.4L2200.6 2321L2224.2 2367.6L2247.9 2414" stroke="#00f" stroke-width="9.2" stroke-dasharray="26.5 24.5" stroke-dashoffset="4.8"/>
</g>
<g fill="#f0f"><circle cx="305.4" cy="1911.2" r="11.1"/><circle cx="329" cy="1965.3" r="11.1"/><circle cx="352.7" cy="2930" r="11.1"/><circle cx="376.4" cy="1919.4" r="11.1"/><circle cx="400.1" cy="1949" r="11.1"/><circle cx="423.8" cy="1916.3" r="11.1"/><circle cx="447.5" cy="1916.3" r="11.1"/><circle cx="471.2" cy="1933.7" r="11.1"/><circle cx="494.9" cy="1931.6" r="11.1"/><circle cx="518.6" cy="1931.6" r="11.1"/><circle cx="542.2" cy="1936.7" r="11.1"/><circle cx="565.9" cy="1939.8" r="11.1"/><circle cx="589.6" cy="1944" r="11.1"/><circle cx="613.3" cy="1949" r="11.1"/><circle cx="637" cy="1956.6" r="11.1"/><circle cx="660.7" cy="1964.3" r="11.1"/><circle cx="684.4" cy="1975.4" r="11.1"/><circle cx="708.1" cy="1987.2" r="11.1"/><circle cx="731.8" cy="2000.3" r="11.1"/><circle cx="755.5" cy="2014" r="11.1"/><circle cx="779.2" cy="2029.3" r="11.1"/><circle cx="802.8" cy="2044.3" r="11.1"/><circle cx="826.5" cy="2057.7" r="11.1"/><circle cx="850.2" cy="2073" r="11.1"/><circle cx="873.9" cy="2087.5" r="11.1"/><circle cx="897.6" cy="2102" r="11.1"/><circle cx="921.3" cy="2117.4" r="11.1"/><circle cx="945" cy="2132.7" r="11.1"/><circle cx="968.7" cy="2148.7" r="11.1"/><circle cx="992.4" cy="2164" r="11.1"/><circle cx="1016.1" cy="2181.6" r="11.1"/><circle cx="1039.7" cy="2198.5" r="11.1"/><circle cx="1063.4" cy="2216.8" r="11.1"/><circle cx="1087.1" cy="2236" r="11.1"/><circle cx="1110.8" cy="2256.6" r="11.1"/><circle cx="1134.5" cy="2278.8" r="11.1"/><circle cx="1158.2" cy="2303.6" r="11.1"/><circle cx="1181.9" cy="2329.3" r="11.1"/><circle cx="1205.6" cy="2354.3" r="11.1"/><circle cx="1229.3" cy="2373.6" r="11.1"/><circle cx="1253" cy="2390.5" r="11.1"/><circle cx="1276.6" cy="2404.1" r="11.1"/><circle cx="1300.3" cy="2398.9" r="11.1"/><circle cx="1324" cy="2393.6" r="11.1"/><circle cx="1347.7" cy="2413.3" r="11.1"/><circle cx="1371.4" cy="2442" r="11.1"/><circle cx="1395.1" cy="2449" r="11.1"/><circle cx="1418.8" cy="2405.2" r="11.1"/><circle cx="1442.5" cy="2375.4" r="11.1"/><circle cx="1466.2" cy="2394" r="11.1"/><circle cx="1489.8" cy="2433.3" r="11.1"/><circle cx="1513.5" cy="2472.9" r="11.1"/><circle cx="1537.2" cy="2498.2" r="11.1"/><circle cx="1560.9" cy="2456.8" r="11.1"/><circle cx="1584.6" cy="2360.6" r="11.1"/><circle cx="1608.3" cy="2355.4" r="11.1"/><circle cx="1632" cy="2391.2" r="11.1"/><circle cx="1655.7" cy="2436.8" r="11.1"/><circle cx="1679.4" cy="2485" r="11.1"/><circle cx="1703.1" cy="2524.7" r="11.1"/><circle cx="1726.8" cy="2534" r="11.1"/><circle cx="1750.4" cy="2406.4" r="11.1"/><circle cx="1774.1" cy="2327.6" r="11.1"/><circle cx="1797.8" cy="2348.7" r="11.1"/><circle cx="1821.5" cy="2392.4" r="11.1"/><circle cx="1845.2" cy="2442.3" r="11.1"/><circle cx="1868.9" cy="2491.5" r="11.1"/><circle cx="1892.6" cy="2537.4" r="11.1"/><circle cx="1916.3" cy="2568.8" r="11.1"/><circle cx="1940" cy="2494.8" r="11.1"/><circle cx="1963.7" cy="2312.1" r="11.1"/><circle cx="1987.3" cy="2323.2" r="11.1"/><circle cx="2011" cy="2365.3" r="11.1"/><circle cx="2034.7" cy="2414.5" r="11.1"/><circle cx="2058.4" cy="2465.6" r="11.1"/><circle cx="2082.1" cy="2516.3" r="11.1"/><circle cx="2105.8" cy="2562.5" r="11.1"/><circle cx="2129.5" cy="2592.1" r="11.1"/><circle cx="2153.2" cy="2462.6" r="11.1"/><circle cx="2176.9" cy="2295.4" r="11.1"/><circle cx="2200.6" cy="2321" r="11.1"/><circle cx="2224.2" cy="2367.6" r="11.1"/></g>
<path d="M293.5 2941.5L303.9 2960.2L303.9 1910.7L316 1938.5L323.6 1962.5Q326.6 1972.5 329.2 1958L336 1910.7L336 2960.2L345.3 2923.5L371.7 2960.2L371.7 1910.7L395.2 1943.4Q400.4 1950.8 405.6 1943.4L429.9 1910.7L429.9 2960.2L440.6 2960.2L440.6 1910.7L440.6 1910.7C442.4 1911.4 444.2 1912.4 445.9 1913.5C447.6 1914.5 449.2 1915.7 450.8 1916.9C452.4 1918.1 454 1919.3 455.6 1920.6C457.1 1921.9 458.7 1923.1 460.3 1924.3C461.9 1925.6 463.5 1926.7 465.2 1927.8C466.9 1928.9 468.6 1929.9 470.4 1930.6C472.3 1931.4 474.2 1932 476.2 1932.3C478.1 1932.6 480.1 1932.7 482.2 1932.6C484.1 1932.6 486.1 1932.4 488.2 1932.1C490.1 1931.9 492.1 1931.6 494.1 1931.2C496 1930.9 498 1930.5 500 1930.2C502 1929.9 504 1929.6 505.9 1929.4C508 1929.2 509.9 1929.1 511.9 1929.1C513.9 1929 515.9 1929.1 517.9 1929.2C519.9 1929.2 521.9 1929.4 523.9 1929.6C525.9 1929.8 527.9 1930.1 529.9 1930.3C531.9 1930.6 533.8 1931 535.8 1931.3C537.8 1931.7 539.7 1932 541.7 1932.4C543.7 1932.8 545.6 1933.2 547.6 1933.6C549.5 1934 551.5 1934.4 553.5 1934.8C555.4 1935.2 557.4 1935.6 559.3 1936C561.3 1936.4 563.3 1936.7 565.2 1937.1C567.2 1937.4 569.2 1937.8 571.1 1938.1C573.1 1938.5 575.1 1938.8 577.1 1939.1C579 1939.5 581 1939.8 583 1940.1C585 1940.5 586.9 1940.8 588.9 1941.1C590.9 1941.5 592.8 1941.8 594.8 1942.2C596.8 1942.5 598.7 1942.9 600.7 1943.2C602.7 1943.6 604.6 1944 606.6 1944.4C608.6 1944.7 610.5 1945.1 612.5 1945.6C614.4 1946 616.4 1946.4 618.4 1946.8C620.3 1947.3 622.3 1947.7 624.2 1948.2C626.1 1948.7 628.1 1949.2 630 1949.7C631.9 1950.2 633.9 1950.8 635.8 1951.3C637.7 1951.9 639.6 1952.5 641.5 1953.1C643.4 1953.7 645.3 1954.3 647.2 1955C649.1 1955.6 651 1956.3 652.9 1956.9C654.8 1957.6 656.6 1958.3 658.5 1959C660.4 1959.7 662.2 1960.5 664.1 1961.2C666 1961.9 667.8 1962.7 669.7 1963.5C671.5 1964.3 673.3 1965 675.2 1965.8C677 1966.6 678.8 1967.5 680.6 1968.3C682.5 1969.1 684.3 1970 686.1 1970.8C687.9 1971.7 689.7 1972.5 691.5 1973.4C693.3 1974.3 695.1 1975.2 696.9 1976.1C698.7 1977 700.4 1977.9 702.2 1978.8C704 1979.7 705.8 1980.6 707.5 1981.6C709.3 1982.5 711.1 1983.5 712.8 1984.4C714.6 1985.4 716.3 1986.3 718.1 1987.3C719.8 1988.3 721.6 1989.2 723.3 1990.2C725.1 1991.2 726.8 1992.2 728.6 1993.2C730.3 1994.2 732 1995.2 733.8 1996.2C735.5 1997.2 737.2 1998.2 738.9 1999.2C740.7 2000.2 742.4 2001.2 744.1 2002.3C745.8 2003.3 747.5 2004.3 749.3 2005.3C751 2006.4 752.7 2007.4 754.4 2008.4C756.1 2009.4 757.8 2010.5 759.5 2011.5C761.2 2012.6 763 2013.6 764.7 2014.6C766.4 2015.7 768.1 2016.7 769.8 2017.7C771.5 2018.8 773.2 2019.8 774.9 2020.9C776.6 2021.9 778.3 2022.9 780.1 2024C781.8 2025 783.5 2026.1 785.2 2027.1C786.9 2028.1 788.6 2029.2 790.3 2030.2C792 2031.2 793.7 2032.3 795.5 2033.3C797.2 2034.3 798.9 2035.3 800.6 2036.4C802.3 2037.4 804 2038.4 805.7 2039.5C807.5 2040.5 809.2 2041.5 810.9 2042.5C812.6 2043.6 814.3 2044.6 816 2045.6C817.8 2046.7 819.5 2047.7 821.2 2048.7C822.9 2049.7 824.6 2050.8 826.3 2051.8C828.1 2052.8 829.8 2053.9 831.5 2054.9C833.2 2055.9 834.9 2056.9 836.6 2058C838.4 2059 840.1 2060 841.8 2061.1C843.5 2062.1 845.2 2063.1 846.9 2064.1C848.6 2065.2 850.4 2066.2 852.1 2067.2C853.8 2068.3 855.5 2069.3 857.2 2070.3C858.9 2071.4 860.6 2072.4 862.3 2073.4C864 2074.5 865.8 2075.5 867.5 2076.6C869.2 2077.6 870.9 2078.6 872.6 2079.7C874.3 2080.7 876 2081.8 877.7 2082.8C879.4 2083.9 881.1 2084.9 882.8 2085.9C884.5 2087 886.2 2088 887.9 2089.1C889.6 2090.1 891.3 2091.2 893 2092.3C894.7 2093.3 896.4 2094.4 898.1 2095.4C899.8 2096.5 901.5 2097.5 903.2 2098.6C904.9 2099.7 906.6 2100.7 908.3 2101.8C910 2102.9 911.7 2103.9 913.4 2105C915.1 2106.1 916.7 2107.2 918.4 2108.2C920.1 2109.3 921.8 2110.4 923.5 2111.5C925.2 2112.6 926.8 2113.7 928.5 2114.7C930.2 2115.8 931.9 2116.9 933.5 2118C935.2 2119.1 936.9 2120.2 938.6 2121.3C940.2 2122.4 941.9 2123.5 943.6 2124.6C945.2 2125.7 946.9 2126.8 948.6 2127.9C950.2 2129.1 951.9 2130.2 953.5 2131.3C955.2 2132.4 956.9 2133.5 958.5 2134.7C960.2 2135.8 961.8 2136.9 963.5 2138C965.1 2139.2 966.8 2140.3 968.4 2141.4C970.1 2142.6 971.7 2143.7 973.3 2144.9C975 2146 976.6 2147.2 978.3 2148.3C979.9 2149.5 981.5 2150.6 983.1 2151.8C984.8 2152.9 986.4 2154.1 988 2155.3C989.7 2156.4 991.3 2157.6 992.9 2158.8C994.5 2160 996.1 2161.1 997.7 2162.3C999.4 2163.5 1001 2164.7 1002.6 2165.9C1004.2 2167.1 1005.8 2168.3 1007.4 2169.5C1009 2170.7 1010.6 2171.9 1012.2 2173.1C1013.8 2174.3 1015.4 2175.5 1017 2176.7C1018.5 2177.9 1020.1 2179.1 1021.7 2180.4C1023.3 2181.6 1024.9 2182.8 1026.4 2184.1C1028 2185.3 1029.6 2186.5 1031.2 2187.8C1032.7 2189 1034.3 2190.3 1035.8 2191.5C1037.4 2192.8 1039 2194 1040.5 2195.3C1042.1 2196.5 1043.6 2197.8 1045.2 2199.1C1046.7 2200.3 1048.3 2201.6 1049.8 2202.9C1051.3 2204.2 1052.9 2205.5 1054.4 2206.7C1055.9 2208 1057.4 2209.3 1059 2210.6C1060.5 2211.9 1062 2213.2 1063.5 2214.5C1065 2215.8 1066.5 2217.2 1068 2218.5C1069.6 2219.8 1071.1 2221.1 1072.6 2222.4C1074.1 2223.8 1075.5 2225.1 1077 2226.4C1078.5 2227.8 1080 2229.1 1081.5 2230.4C1083 2231.8 1084.5 2233.1 1086 2234.5C1087.4 2235.8 1088.9 2237.1 1090.4 2238.5C1091.9 2239.8 1093.4 2241.2 1094.8 2242.5C1096.3 2243.9 1097.8 2245.3 1099.2 2246.6C1100.7 2248 1102.2 2249.3 1103.6 2250.7C1105.1 2252.1 1106.6 2253.4 1108 2254.8C1109.5 2256.1 1111 2257.5 1112.4 2258.9C1113.9 2260.2 1115.3 2261.6 1116.8 2263C1118.3 2264.3 1119.7 2265.7 1121.2 2267.1C1122.6 2268.5 1124.1 2269.8 1125.5 2271.2C1127 2272.6 1128.5 2273.9 1129.9 2275.3C1131.4 2276.7 1132.8 2278 1134.3 2279.4C1135.7 2280.8 1137.2 2282.1 1138.7 2283.5C1140.1 2284.9 1141.6 2286.3 1143 2287.6C1144.5 2289 1146 2290.3 1147.4 2291.7C1148.9 2293.1 1150.4 2294.4 1151.8 2295.8C1153.3 2297.2 1154.8 2298.5 1156.2 2299.9C1157.7 2301.2 1159.2 2302.6 1160.7 2303.9C1162.1 2305.3 1163.6 2306.6 1165.1 2308C1166.6 2309.3 1168 2310.7 1169.5 2312C1171 2313.3 1172.5 2314.7 1174 2316C1175.5 2317.4 1177 2318.7 1178.5 2320C1180 2321.3 1181.5 2322.7 1183 2324C1184.5 2325.3 1186 2326.6 1187.5 2327.9C1189 2329.2 1190.5 2330.5 1192 2331.8C1193.6 2333.1 1195.1 2334.4 1196.6 2335.7C1198.1 2337 1199.6 2338.3 1201.2 2339.6C1202.7 2340.9 1204.2 2342.2 1205.8 2343.5C1207.3 2344.8 1208.8 2346.1 1210.4 2347.3C1211.9 2348.6 1213.4 2349.9 1215 2351.2C1216.5 2352.5 1218 2353.7 1219.6 2355C1221.1 2356.3 1222.7 2357.6 1224.2 2358.8C1225.8 2360.1 1227.3 2361.4 1228.8 2362.7C1230.4 2363.9 1231.9 2365.2 1233.5 2366.5C1235 2367.7 1236.6 2369 1238.1 2370.3C1239.7 2371.5 1241.2 2372.8 1242.7 2374.1C1244.3 2375.4 1245.8 2376.6 1247.4 2377.9C1249 2379.1 1250.6 2380.4 1252.2 2381.5C1253.8 2382.7 1255.4 2383.9 1257.1 2385C1258.8 2386.1 1260.5 2387.1 1262.2 2388C1264 2389 1265.9 2389.8 1267.7 2390.5C1269.6 2391.3 1271.5 2391.8 1273.5 2392.2C1275.4 2392.6 1277.4 2392.7 1279.4 2392.6C1281.4 2392.6 1283.4 2392.3 1285.4 2391.8C1287.2 2391.3 1289.2 2390.7 1291.1 2390C1292.9 2389.3 1294.8 2388.5 1296.7 2387.8C1298.5 2387 1300.4 2386.2 1302.2 2385.5C1304.1 2384.8 1306 2384.1 1307.9 2383.5C1309.8 2382.9 1311.8 2382.5 1313.7 2382.2C1315.7 2382 1317.7 2381.9 1319.7 2382.1C1321.7 2382.3 1323.7 2382.7 1325.6 2383.2C1327.5 2383.7 1329.4 2384.5 1331.2 2385.3C1333 2386.2 1334.8 2387.1 1336.5 2388.2C1338.1 2389.3 1339.8 2390.5 1341.3 2391.7C1342.9 2393 1344.3 2394.3 1345.8 2395.7C1347.2 2397.1 1348.6 2398.6 1349.9 2400.1C1351.3 2401.5 1352.6 2403 1353.9 2404.6C1355.1 2406.1 1356.4 2407.7 1357.6 2409.3C1358.9 2410.8 1360.1 2412.4 1361.3 2414C1362.5 2415.6 1363.8 2417.2 1365 2418.7C1366.2 2420.3 1367.5 2421.9 1368.8 2423.4C1370 2425 1371.3 2426.5 1372.7 2428C1374 2429.5 1375.4 2430.9 1376.9 2432.2C1378.4 2433.6 1380.1 2434.8 1381.8 2435.7C1383.6 2436.6 1385.5 2437.2 1387.5 2437.3C1389.5 2437.4 1391.5 2437.1 1393.4 2436.5C1395.4 2435.9 1397.2 2435.1 1398.8 2434C1400.5 2432.9 1402 2431.5 1403.3 2430C1404.6 2428.5 1405.7 2426.9 1406.7 2425.1C1407.6 2423.4 1408.5 2421.6 1409.3 2419.7C1410 2417.9 1410.7 2416 1411.3 2414C1411.9 2412.2 1412.5 2410.3 1413.1 2408.3C1413.7 2406.4 1414.3 2404.5 1414.9 2402.6C1415.4 2400.7 1416 2398.7 1416.6 2396.8C1417.2 2394.9 1417.9 2393 1418.6 2391.2C1419.3 2389.3 1420 2387.4 1420.8 2385.6C1421.6 2383.7 1422.5 2381.9 1423.4 2380.1C1424.3 2378.3 1425.3 2376.6 1426.3 2374.9C1427.4 2373.2 1428.6 2371.5 1429.9 2370.1C1431.2 2368.5 1432.7 2367.1 1434.2 2366C1435.9 2364.8 1437.7 2363.9 1439.6 2363.5C1441.5 2363.1 1443.5 2363.1 1445.6 2363.6C1447.4 2364 1449.3 2364.7 1451.2 2365.6C1452.9 2366.5 1454.6 2367.5 1456.3 2368.7C1457.9 2369.8 1459.5 2371.1 1461 2372.4C1462.5 2373.8 1464 2375.2 1465.4 2376.6C1466.7 2378.1 1468.1 2379.6 1469.3 2381.1C1470.6 2382.6 1471.8 2384.2 1473 2385.8C1474.2 2387.5 1475.3 2389.1 1476.4 2390.8C1477.5 2392.5 1478.5 2394.2 1479.5 2395.9C1480.5 2397.7 1481.4 2399.4 1482.3 2401.2C1483.3 2403 1484.2 2404.8 1485 2406.6C1485.9 2408.4 1486.8 2410.2 1487.6 2412C1488.4 2413.8 1489.3 2415.6 1490.1 2417.4C1490.9 2419.3 1491.8 2421.1 1492.6 2422.9C1493.5 2424.7 1494.3 2426.5 1495.2 2428.3C1496 2430.1 1496.9 2431.9 1497.8 2433.7C1498.7 2435.5 1499.6 2437.3 1500.6 2439C1501.5 2440.8 1502.5 2442.5 1503.5 2444.3C1504.5 2446 1505.5 2447.7 1506.6 2449.4C1507.7 2451.1 1508.8 2452.8 1509.9 2454.4C1511 2456.1 1512.2 2457.7 1513.4 2459.3C1514.6 2460.9 1515.8 2462.5 1517.1 2464.1C1518.3 2465.6 1519.6 2467.1 1521 2468.6C1522.3 2470.1 1523.6 2471.6 1525.1 2473C1526.5 2474.4 1527.9 2475.8 1529.4 2477.2C1530.9 2478.5 1532.5 2479.8 1534.1 2480.9C1535.9 2482.1 1537.7 2483.1 1539.4 2483.6C1541.5 2484.3 1543.5 2484.3 1545.3 2483.5C1546.9 2482.8 1548.5 2481.5 1549.8 2479.7C1551 2478.3 1552.1 2476.6 1553 2474.7C1553.9 2473 1554.7 2471.1 1555.5 2469.2C1556.2 2467.4 1556.8 2465.5 1557.4 2463.5C1558 2461.6 1558.6 2459.7 1559.1 2457.8C1559.7 2455.8 1560.1 2453.8 1560.6 2451.9C1561.1 2450 1561.5 2448 1561.9 2446.1C1562.4 2444.1 1562.8 2442.1 1563.1 2440.2C1563.5 2438.2 1563.8 2436.2 1564.2 2434.3C1564.5 2432.3 1564.8 2430.3 1565.1 2428.4C1565.4 2426.4 1565.6 2424.4 1565.9 2422.4C1566.2 2420.4 1566.4 2418.4 1566.6 2416.5C1566.9 2414.5 1567.1 2412.5 1567.3 2410.5C1567.6 2408.5 1567.8 2406.5 1568 2404.6C1568.3 2402.6 1568.5 2400.6 1568.8 2398.6C1569 2396.6 1569.3 2394.7 1569.6 2392.7C1569.9 2390.7 1570.2 2388.7 1570.5 2386.7C1570.9 2384.8 1571.2 2382.8 1571.6 2380.8C1572 2378.9 1572.4 2376.9 1572.8 2374.9C1573.2 2373 1573.7 2371.1 1574.2 2369.1C1574.7 2367.2 1575.2 2365.2 1575.8 2363.3C1576.3 2361.4 1576.9 2359.5 1577.6 2357.6C1578.2 2355.7 1578.9 2353.8 1579.6 2352C1580.4 2350.1 1581.1 2348.2 1582 2346.4C1582.9 2344.6 1583.9 2342.8 1585 2341.3C1586.2 2339.5 1587.6 2338.1 1589.2 2337C1590.9 2335.9 1592.8 2335.3 1594.8 2335.1C1596.7 2334.9 1598.8 2335.1 1600.8 2335.5C1602.7 2335.9 1604.6 2336.6 1606.4 2337.4C1608.3 2338.3 1610 2339.3 1611.6 2340.5C1613.2 2341.7 1614.7 2343 1616.1 2344.5C1617.4 2345.9 1618.7 2347.5 1619.9 2349.1C1621.1 2350.7 1622.2 2352.3 1623.3 2354C1624.3 2355.7 1625.3 2357.5 1626.3 2359.2C1627.3 2361 1628.2 2362.8 1629.1 2364.6C1630 2366.3 1630.9 2368.1 1631.8 2369.9C1632.7 2371.7 1633.6 2373.5 1634.4 2375.3C1635.3 2377.1 1636.2 2378.9 1637.1 2380.7C1638 2382.5 1638.9 2384.3 1639.7 2386.1C1640.6 2387.9 1641.5 2389.7 1642.4 2391.5C1643.3 2393.3 1644.1 2395.1 1645 2396.8C1645.9 2398.6 1646.8 2400.4 1647.7 2402.2C1648.5 2404 1649.4 2405.8 1650.3 2407.6C1651.2 2409.4 1652.1 2411.2 1653 2413C1653.9 2414.8 1654.7 2416.6 1655.6 2418.4C1656.5 2420.2 1657.4 2421.9 1658.3 2423.7C1659.2 2425.5 1660.1 2427.3 1661 2429.1C1662 2430.9 1662.9 2432.6 1663.8 2434.4C1664.7 2436.2 1665.6 2438 1666.5 2439.8C1667.4 2441.5 1668.4 2443.3 1669.3 2445.1C1670.2 2446.9 1671.1 2448.6 1672.1 2450.4C1673 2452.2 1673.9 2453.9 1674.9 2455.7C1675.8 2457.5 1676.7 2459.2 1677.7 2461C1678.6 2462.8 1679.6 2464.5 1680.5 2466.3C1681.5 2468.1 1682.4 2469.8 1683.4 2471.6C1684.3 2473.3 1685.2 2475.1 1686.2 2476.9C1687.1 2478.6 1688.1 2480.4 1689.1 2482.1C1690 2483.9 1691 2485.6 1691.9 2487.4C1692.9 2489.2 1693.8 2490.9 1694.8 2492.7C1695.8 2494.4 1696.7 2496.2 1697.7 2497.9C1698.7 2499.7 1699.7 2501.4 1700.7 2503.1C1701.8 2504.9 1702.9 2506.5 1704 2508.1C1705.2 2509.8 1706.4 2511.4 1707.7 2512.9C1709.1 2514.4 1710.5 2515.9 1712 2517.1C1713.6 2518.4 1715.3 2519.5 1717 2520.3C1718.9 2521.1 1720.9 2521.7 1722.8 2521.7C1724.8 2521.8 1726.8 2521.3 1728.4 2520C1729.8 2518.8 1731 2517.2 1732.1 2515.3C1733.1 2513.6 1733.9 2511.8 1734.6 2509.8C1735.3 2508 1736 2506.1 1736.6 2504.2C1737.2 2502.2 1737.7 2500.3 1738.2 2498.4C1738.7 2496.4 1739.1 2494.5 1739.5 2492.5C1739.9 2490.6 1740.2 2488.6 1740.5 2486.6C1740.8 2484.6 1741.1 2482.7 1741.4 2480.7C1741.6 2478.7 1741.8 2476.7 1742 2474.7C1742.2 2472.7 1742.4 2470.7 1742.6 2468.8C1742.8 2466.8 1743 2464.8 1743.1 2462.8C1743.3 2460.8 1743.5 2458.8 1743.7 2456.8C1743.9 2454.8 1744.1 2452.8 1744.4 2450.8C1744.6 2448.9 1744.9 2446.9 1745.2 2444.9C1745.4 2442.9 1745.7 2440.9 1746 2439C1746.3 2437 1746.7 2435 1747 2433C1747.3 2431.1 1747.6 2429.1 1748 2427.1C1748.3 2425.1 1748.6 2423.2 1748.9 2421.2C1749.3 2419.2 1749.6 2417.2 1749.9 2415.3C1750.2 2413.3 1750.6 2411.3 1750.9 2409.3C1751.2 2407.4 1751.5 2405.4 1751.7 2403.4C1752 2401.4 1752.3 2399.4 1752.5 2397.5C1752.8 2395.5 1753 2393.5 1753.2 2391.5C1753.4 2389.5 1753.6 2387.5 1753.7 2385.5C1753.9 2383.5 1754.1 2381.5 1754.3 2379.5C1754.4 2377.5 1754.6 2375.6 1754.8 2373.6C1755 2371.6 1755.1 2369.6 1755.4 2367.6C1755.6 2365.6 1755.8 2363.6 1756.1 2361.6C1756.3 2359.7 1756.6 2357.7 1756.9 2355.7C1757.2 2353.7 1757.6 2351.8 1758 2349.8C1758.4 2347.9 1758.8 2345.9 1759.3 2343.9C1759.8 2342 1760.4 2340.1 1760.9 2338.2C1761.5 2336.3 1762.1 2334.4 1762.8 2332.5C1763.5 2330.6 1764.3 2328.7 1765.1 2326.9C1765.9 2325 1766.7 2323.2 1767.7 2321.5C1768.7 2319.6 1769.8 2317.9 1770.9 2316.5C1772.3 2314.7 1773.7 2313.3 1775.2 2312.3C1777 2311.1 1778.9 2310.5 1780.9 2310.8C1782.7 2311 1784.5 2311.7 1786.4 2312.9C1788 2313.9 1789.5 2315.2 1791.1 2316.7C1792.5 2318 1793.9 2319.5 1795.2 2321.1C1796.5 2322.6 1797.7 2324.1 1798.9 2325.8C1800.1 2327.4 1801.3 2329 1802.4 2330.6C1803.6 2332.3 1804.7 2334 1805.7 2335.7C1806.8 2337.4 1807.8 2339.1 1808.8 2340.8C1809.8 2342.6 1810.7 2344.4 1811.6 2346.1C1812.6 2347.9 1813.5 2349.7 1814.4 2351.4C1815.3 2353.2 1816.1 2355 1817 2356.8C1817.8 2358.6 1818.7 2360.5 1819.5 2362.3C1820.4 2364.1 1821.2 2365.9 1822.1 2367.7C1822.9 2369.5 1823.8 2371.3 1824.7 2373.1C1825.5 2374.9 1826.4 2376.7 1827.2 2378.5C1828.1 2380.3 1829 2382.1 1829.8 2383.9C1830.7 2385.7 1831.6 2387.5 1832.5 2389.3C1833.3 2391.1 1834.2 2392.9 1835.1 2394.7C1836 2396.5 1836.8 2398.3 1837.7 2400.1C1838.6 2401.9 1839.5 2403.7 1840.4 2405.5C1841.2 2407.3 1842.1 2409.1 1843 2410.9C1843.9 2412.7 1844.8 2414.5 1845.7 2416.3C1846.6 2418.1 1847.4 2419.9 1848.3 2421.7C1849.2 2423.5 1850.1 2425.2 1851 2427C1851.9 2428.8 1852.8 2430.6 1853.7 2432.4C1854.6 2434.2 1855.5 2436 1856.4 2437.8C1857.3 2439.6 1858.1 2441.4 1859 2443.1C1859.9 2444.9 1860.8 2446.7 1861.7 2448.5C1862.6 2450.3 1863.5 2452.1 1864.4 2453.9C1865.3 2455.7 1866.2 2457.5 1867.1 2459.3C1868 2461.1 1868.9 2462.8 1869.8 2464.6C1870.6 2466.4 1871.5 2468.2 1872.4 2470C1873.3 2471.8 1874.2 2473.6 1875.1 2475.4C1876 2477.2 1876.9 2478.9 1877.8 2480.7C1878.7 2482.5 1879.6 2484.3 1880.5 2486.1C1881.4 2487.9 1882.3 2489.7 1883.2 2491.5C1884.1 2493.2 1885 2495 1885.9 2496.8C1886.8 2498.6 1887.7 2500.4 1888.6 2502.2C1889.5 2504 1890.4 2505.7 1891.3 2507.5C1892.2 2509.3 1893.1 2511.1 1894 2512.9C1894.9 2514.7 1895.8 2516.4 1896.7 2518.2C1897.7 2520 1898.6 2521.7 1899.6 2523.5C1900.6 2525.2 1901.6 2526.9 1902.7 2528.6C1903.8 2530.3 1904.9 2532 1906 2533.6C1907.2 2535.3 1908.4 2536.9 1909.6 2538.4C1910.9 2540 1912.2 2541.5 1913.5 2543C1914.9 2544.5 1916.4 2545.9 1917.9 2547.1C1919.6 2548.6 1921.4 2549.7 1923.1 2550C1925 2550.3 1926.8 2549.4 1928.4 2547.7C1929.6 2546.4 1930.7 2544.6 1931.7 2542.8C1932.7 2541 1933.6 2539.2 1934.4 2537.4C1935.2 2535.6 1935.9 2533.7 1936.5 2531.8C1937.2 2529.9 1937.8 2528 1938.3 2526.1C1938.8 2524.2 1939.3 2522.2 1939.7 2520.2C1940.1 2518.3 1940.5 2516.3 1940.8 2514.3C1941.1 2512.4 1941.4 2510.4 1941.6 2508.4C1941.8 2506.4 1942.1 2504.4 1942.2 2502.4C1942.4 2500.4 1942.6 2498.4 1942.7 2496.4C1942.9 2494.5 1943 2492.5 1943.1 2490.5C1943.3 2488.5 1943.4 2486.5 1943.5 2484.5C1943.6 2482.5 1943.7 2480.5 1943.8 2478.5C1944 2476.5 1944.1 2474.5 1944.2 2472.5C1944.4 2470.5 1944.5 2468.5 1944.6 2466.5C1944.8 2464.5 1944.9 2462.5 1945.1 2460.5C1945.3 2458.5 1945.4 2456.5 1945.6 2454.5C1945.7 2452.5 1945.9 2450.6 1946.1 2448.6C1946.3 2446.6 1946.4 2444.6 1946.6 2442.6C1946.8 2440.6 1947 2438.6 1947.2 2436.6C1947.3 2434.6 1947.5 2432.6 1947.7 2430.6C1947.9 2428.6 1948.1 2426.7 1948.3 2424.7C1948.5 2422.7 1948.7 2420.7 1948.9 2418.7C1949.1 2416.7 1949.3 2414.7 1949.5 2412.7C1949.7 2410.7 1949.9 2408.7 1950.1 2406.8C1950.3 2404.8 1950.5 2402.8 1950.7 2400.8C1950.9 2398.8 1951.1 2396.8 1951.3 2394.8C1951.5 2392.8 1951.7 2390.8 1951.9 2388.8C1952.1 2386.9 1952.3 2384.9 1952.5 2382.9C1952.7 2380.9 1952.9 2378.9 1953.1 2376.9C1953.3 2374.9 1953.5 2372.9 1953.7 2370.9C1953.9 2368.9 1954 2366.9 1954.2 2364.9C1954.4 2363 1954.6 2361 1954.8 2359C1954.9 2357 1955.1 2355 1955.3 2353C1955.4 2351 1955.6 2349 1955.7 2347C1955.9 2345 1956.1 2343 1956.3 2341C1956.4 2339.1 1956.6 2337.1 1956.8 2335.1C1957 2333.1 1957.3 2331.1 1957.5 2329.1C1957.8 2327.1 1958.1 2325.2 1958.4 2323.2C1958.7 2321.2 1959.1 2319.3 1959.5 2317.3C1959.9 2315.3 1960.3 2313.4 1960.8 2311.4C1961.3 2309.4 1961.8 2307.5 1962.4 2305.6C1963.1 2303.7 1963.8 2301.8 1964.7 2300.1C1965.6 2298.2 1966.7 2296.5 1968 2295.1C1969.3 2293.5 1970.9 2292.2 1972.7 2291.4C1974.5 2290.5 1976.5 2290.2 1978.5 2290.5C1980.4 2290.8 1982.1 2291.7 1983.9 2293.1C1985.4 2294.2 1986.8 2295.7 1988.2 2297.2C1989.6 2298.7 1990.9 2300.2 1992.1 2301.7C1993.4 2303.3 1994.6 2304.9 1995.8 2306.5C1997 2308.1 1998.2 2309.7 1999.3 2311.4C2000.4 2313 2001.5 2314.7 2002.5 2316.4C2003.6 2318.1 2004.6 2319.8 2005.6 2321.6C2006.6 2323.3 2007.6 2325 2008.5 2326.8C2009.4 2328.6 2010.3 2330.4 2011.2 2332.1C2012.1 2333.9 2013 2335.7 2013.8 2337.6C2014.7 2339.4 2015.5 2341.2 2016.4 2343C2017.2 2344.8 2018 2346.7 2018.8 2348.5C2019.6 2350.3 2020.4 2352.2 2021.2 2354C2022 2355.8 2022.8 2357.7 2023.5 2359.5C2024.3 2361.3 2025.1 2363.2 2025.9 2365C2026.7 2366.9 2027.5 2368.7 2028.3 2370.5C2029.1 2372.3 2029.9 2374.2 2030.8 2376C2031.6 2377.8 2032.4 2379.6 2033.3 2381.4C2034.1 2383.2 2035 2385.1 2035.9 2386.9C2036.7 2388.7 2037.6 2390.5 2038.5 2392.2C2039.4 2394 2040.3 2395.8 2041.2 2397.6C2042.1 2399.4 2043 2401.2 2043.9 2403C2044.8 2404.7 2045.8 2406.5 2046.7 2408.3C2047.6 2410.1 2048.6 2411.8 2049.5 2413.6C2050.4 2415.4 2051.4 2417.1 2052.3 2418.9C2053.3 2420.6 2054.2 2422.4 2055.2 2424.2C2056.1 2425.9 2057.1 2427.7 2058 2429.4C2059 2431.2 2059.9 2433 2060.9 2434.7C2061.9 2436.5 2062.8 2438.2 2063.8 2440C2064.7 2441.7 2065.7 2443.5 2066.6 2445.2C2067.6 2447 2068.6 2448.8 2069.5 2450.5C2070.5 2452.3 2071.4 2454 2072.4 2455.8C2073.3 2457.5 2074.3 2459.3 2075.2 2461.1C2076.2 2462.8 2077.1 2464.6 2078.1 2466.4C2079 2468.1 2079.9 2469.9 2080.9 2471.7C2081.8 2473.4 2082.7 2475.2 2083.6 2477C2084.5 2478.8 2085.4 2480.6 2086.4 2482.3C2087.3 2484.1 2088.2 2485.9 2089.1 2487.7C2090 2489.5 2090.9 2491.3 2091.7 2493.1C2092.6 2494.8 2093.5 2496.6 2094.4 2498.4C2095.3 2500.2 2096.2 2502 2097 2503.8C2097.9 2505.6 2098.8 2507.4 2099.7 2509.2C2100.5 2511 2101.4 2512.8 2102.3 2514.6C2103.1 2516.4 2104 2518.2 2104.9 2520C2105.7 2521.8 2106.6 2523.6 2107.5 2525.5C2108.3 2527.2 2109.2 2529.1 2110 2530.9C2110.9 2532.7 2111.7 2534.5 2112.6 2536.3C2113.5 2538.1 2114.4 2539.9 2115.3 2541.7C2116.2 2543.5 2117.1 2545.2 2118 2547C2119 2548.8 2120 2550.5 2121 2552.2C2122 2554 2123.1 2555.6 2124.3 2557.3C2125.4 2558.9 2126.6 2560.5 2127.9 2562C2129.2 2563.6 2130.6 2565 2132 2566.4C2133.6 2567.8 2135.2 2569.1 2136.9 2569.9C2138.9 2570.9 2140.8 2570.8 2142.4 2569.5C2143.8 2568.4 2144.9 2566.7 2146 2564.7C2146.9 2563 2147.7 2561.1 2148.5 2559.2C2149.3 2557.4 2149.9 2555.5 2150.6 2553.6C2151.2 2551.7 2151.7 2549.8 2152.2 2547.8C2152.7 2545.9 2153.2 2544 2153.6 2542C2154 2540 2154.3 2538.1 2154.6 2536.1C2154.9 2534.1 2155.2 2532.1 2155.4 2530.1C2155.6 2528.2 2155.8 2526.2 2156 2524.2C2156.2 2522.2 2156.3 2520.2 2156.4 2518.2C2156.5 2516.2 2156.6 2514.2 2156.7 2512.2C2156.8 2510.2 2156.9 2508.2 2156.9 2506.2C2157 2504.2 2157.1 2502.2 2157.1 2500.2C2157.2 2498.2 2157.2 2496.2 2157.3 2494.2C2157.4 2492.2 2157.5 2490.2 2157.5 2488.2C2157.6 2486.2 2157.7 2484.2 2157.8 2482.2C2157.9 2480.2 2158 2478.2 2158.1 2476.2C2158.2 2474.2 2158.3 2472.2 2158.4 2470.2C2158.5 2468.2 2158.7 2466.2 2158.8 2464.2C2158.9 2462.2 2159 2460.2 2159.2 2458.2C2159.3 2456.2 2159.4 2454.2 2159.6 2452.3C2159.7 2450.3 2159.9 2448.3 2160 2446.3C2160.2 2444.3 2160.3 2442.3 2160.5 2440.3C2160.6 2438.3 2160.8 2436.3 2160.9 2434.3C2161.1 2432.3 2161.2 2430.3 2161.4 2428.3C2161.5 2426.3 2161.7 2424.3 2161.8 2422.3C2162 2420.3 2162.1 2418.3 2162.3 2416.4C2162.4 2414.4 2162.6 2412.4 2162.7 2410.4C2162.9 2408.4 2163 2406.4 2163.2 2404.4C2163.3 2402.4 2163.4 2400.4 2163.6 2398.4C2163.7 2396.4 2163.8 2394.4 2164 2392.4C2164.1 2390.4 2164.2 2388.4 2164.3 2386.4C2164.5 2384.4 2164.6 2382.4 2164.7 2380.4C2164.8 2378.4 2164.9 2376.4 2165 2374.4C2165.1 2372.4 2165.2 2370.4 2165.2 2368.4C2165.3 2366.4 2165.4 2364.4 2165.5 2362.4C2165.5 2360.5 2165.6 2358.5 2165.6 2356.4C2165.7 2354.5 2165.7 2352.5 2165.8 2350.4C2165.8 2348.5 2165.8 2346.4 2165.9 2344.4C2165.9 2342.4 2166 2340.4 2166 2338.4C2166.1 2336.4 2166.1 2334.4 2166.2 2332.5C2166.3 2330.4 2166.4 2328.4 2166.5 2326.5C2166.7 2324.5 2166.8 2322.5 2167 2320.5C2167.2 2318.5 2167.4 2316.5 2167.6 2314.5C2167.9 2312.5 2168.2 2310.5 2168.5 2308.6C2168.8 2306.6 2169.2 2304.6 2169.6 2302.7C2170.1 2300.7 2170.6 2298.8 2171.1 2296.9C2171.7 2294.9 2172.3 2293 2173 2291.2C2173.7 2289.3 2174.4 2287.4 2175.2 2285.6C2176.1 2283.8 2177 2281.9 2178 2280.3C2179.2 2278.4 2180.5 2276.9 2182 2275.9C2183.7 2274.8 2185.7 2274.6 2187.8 2275.2C2189.5 2275.6 2191.4 2276.6 2193.1 2277.9C2194.7 2279 2196.2 2280.4 2197.5 2281.9C2198.9 2283.4 2200.1 2285 2201.3 2286.6C2202.4 2288.2 2203.5 2289.9 2204.5 2291.7C2205.6 2293.4 2206.6 2295.2 2207.5 2296.9C2208.5 2298.7 2209.5 2300.4 2210.4 2302.1C2211.4 2303.9 2212.4 2305.6 2213.3 2307.4C2214.3 2309.1 2215.2 2310.9 2216.2 2312.6C2217.1 2314.4 2218.1 2316.1 2219 2317.9C2219.9 2319.7 2220.8 2321.5 2221.8 2323.3C2222.7 2325 2223.6 2326.8 2224.5 2328.6C2225.4 2330.4 2226.3 2332.2 2227.2 2334C2228.1 2335.8 2229 2337.6 2229.9 2339.3C2230.7 2341.1 2231.6 2342.9 2232.5 2344.7C2233.4 2346.5 2234.3 2348.3 2235.2 2350.1C2236.1 2351.9 2237 2353.7 2237.9 2355.5" fill="none" stroke="#000" stroke-width="9.5" stroke-linejoin="round" clip-path="url(#cb)"/>
<rect x="293.5" y="1852.4" width="1940" height="1166.1" fill="none" stroke="#262626" stroke-width="3.0"/><path d="M536 3018.5v-20M536 1852.4v20M778.5 3018.5v-20M778.5 1852.4v20M1021 3018.5v-20M1021 1852.4v20M1263.5 3018.5v-20M1263.5 1852.4v20M1506 3018.5v-20M1506 1852.4v20M1748.5 3018.5v-20M1748.5 1852.4v20M1991 3018.5v-20M1991 1852.4v20M293.5 2143.9h20M2233.5 2143.9h-20M293.5 2435.4h20M2233.5 2435.4h-20M293.5 2727h20M2233.5 2727h-20" fill="none" stroke="#262626" stroke-width="3.0"/>
<text x="293.5" y="3111" font-size="75.4" text-anchor="middle" fill="#262626">0</text>
<text x="536" y="3111" font-size="75.4" text-anchor="middle" fill="#262626">10</text>
<text x="778.5" y="3111" font-size="75.4" text-anchor="middle" fill="#262626">20</text>
<text x="1021" y="3111" font-size="75.4" text-anchor="middle" fill="#262626">30</text>
<text x="1263.5" y="3111" font-size="75.4" text-anchor="middle" fill="#262626">40</text>
<text x="1506" y="3111" font-size="75.4" text-anchor="middle" fill="#262626">50</text>
<text x="1748.5" y="3111" font-size="75.4" text-anchor="middle" fill="#262626">60</text>
<text x="1991" y="3111" font-size="75.4" text-anchor="middle" fill="#262626">70</text>
<text x="2233.5" y="3111" font-size="75.4" text-anchor="middle" fill="#262626">80</text>
<text x="268.5" y="1878.6" font-size="75.4" text-anchor="end" fill="#262626">200</text>
<text x="268.5" y="2170.1" font-size="75.4" text-anchor="end" fill="#262626">100</text>
<text x="268.5" y="2461.6" font-size="75.4" text-anchor="end" fill="#262626">0</text>
<text x="268.5" y="2753.2" font-size="75.4" text-anchor="end" fill="#262626">-100</text>
<text x="268.5" y="3044.7" font-size="75.4" text-anchor="end" fill="#262626">-200</text>
<text x="1263.5" y="3209" font-size="83.0" text-anchor="middle" fill="#262626" letter-spacing="0.4">Frequency / GHz</text>
<text transform="translate(102.5 2436.4) rotate(-90)" font-size="83.0" text-anchor="middle" fill="#262626">Reflection Coefficient Phase / (°)</text>
<rect x="1464.7" y="1885.8" width="735.2" height="331.7" fill="#fff" stroke="#262626" stroke-width="3.0"/><path d="M1476 1932.5H1604.1" stroke="#f00" stroke-width="9.2" stroke-dasharray="26.5 5.5 13.5 5.5" fill="none"/><path d="M1476 2012.4H1604.1" stroke="#00f" stroke-width="9.2" stroke-dasharray="26.5 24.5" fill="none"/><circle cx="1540" cy="2092" r="11.1" fill="#f0f"/><path d="M1476 2172.5H1604.1" stroke="#000" stroke-width="9.2" fill="none"/><text x="1614.6" y="1954.5" font-size="67.9" text-anchor="start" fill="#000">JEC-FDTD Method</text><text x="1614.6" y="2034.6" font-size="67.9" text-anchor="start" fill="#000">ADE-FDTD Method</text><text x="1614.6" y="2114.4" font-size="67.9" text-anchor="start" fill="#000">Proposed Method</text><text x="1614.6" y="2194.2" font-size="67.9" text-anchor="start" fill="#000">Exact</text>
<text x="1095.5" y="3432" font-size="87" text-anchor="middle" fill="#000">(<tspan font-weight="bold">b</tspan>)</text>
</g>
</svg>
</body>
</html>
